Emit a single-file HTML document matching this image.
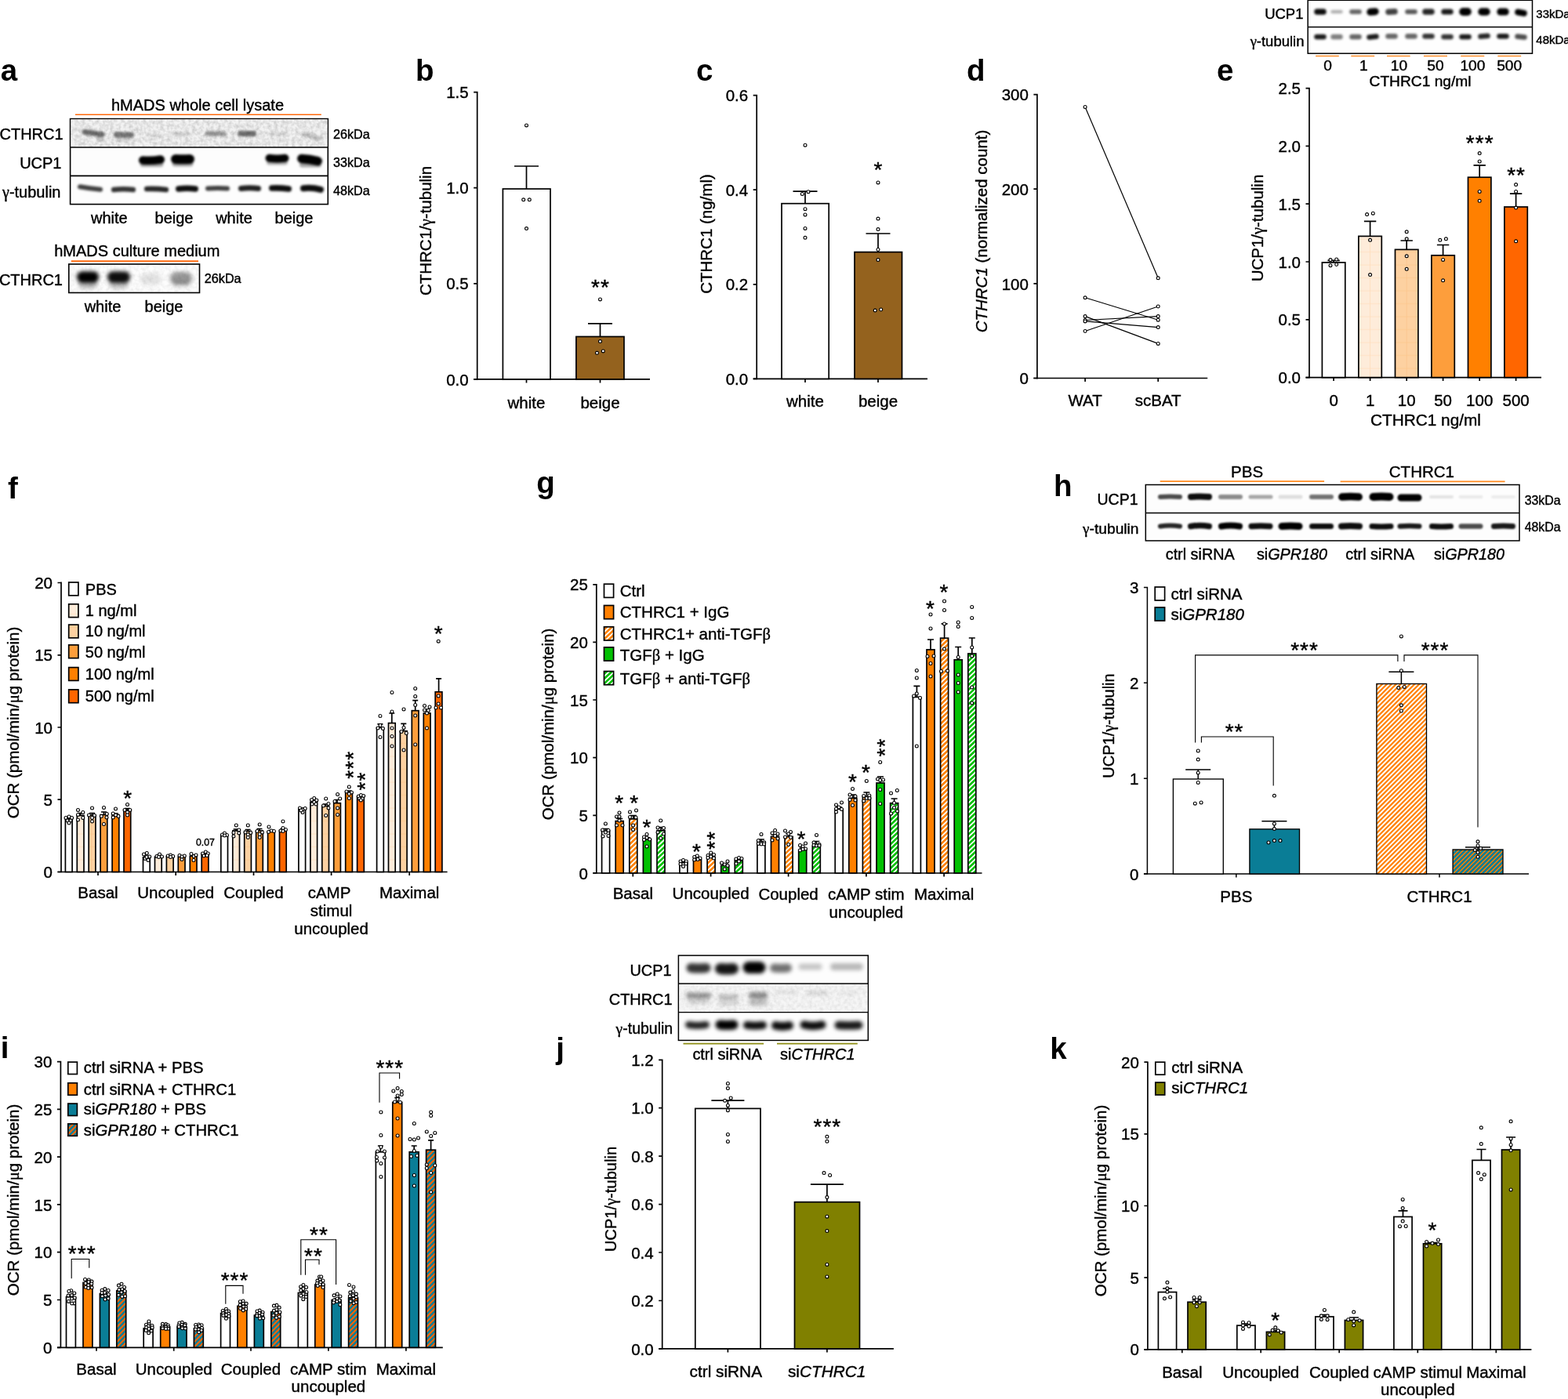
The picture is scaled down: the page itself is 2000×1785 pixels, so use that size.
<!DOCTYPE html>
<html lang="en"><head><meta charset="utf-8"><title>Figure</title>
<style>
html,body{margin:0;padding:0;background:#fff}
svg{display:block}
text{font-family:"Liberation Sans",Arial,Helvetica,sans-serif;font-size:20.5px;fill:#000;stroke:#000;stroke-width:0.4px}
path{stroke:#000;stroke-width:1.7;fill:none}
#m rect{stroke:#000;stroke-width:1.7;fill:#fff}
circle{fill:#fff;stroke:#000;stroke-width:1.1;r:1.95px}
.b{stroke-width:1.1}
.s{font-size:28px;letter-spacing:1px;text-anchor:middle;stroke:#000;stroke-width:0.4px}
.wb path{stroke-linecap:round}
</style></head><body>
<svg width="2000" height="1785" viewBox="0 0 2000 1785">
<defs>
<filter id="b1" filterUnits="userSpaceOnUse" x="0" y="0" width="2000" height="1785"><feGaussianBlur stdDeviation="1.0"/></filter>
<filter id="b2" filterUnits="userSpaceOnUse" x="0" y="0" width="2000" height="1785"><feGaussianBlur stdDeviation="1.6"/></filter>
<filter id="b3" filterUnits="userSpaceOnUse" x="0" y="0" width="2000" height="1785"><feGaussianBlur stdDeviation="2.6"/></filter>
<filter id="nz" x="0" y="0" width="100%" height="100%"><feTurbulence type="fractalNoise" baseFrequency="0.22" numOctaves="2" seed="3"/><feColorMatrix type="matrix" values="0 0 0 0 0  0 0 0 0 0  0 0 0 0 0  1.1 0 0 0 -0.36"/></filter>
<pattern id="g1" x="1724.3" y="0" width="46.6" height="16.5" patternUnits="userSpaceOnUse"><rect width="46.6" height="16.5" fill="#feecda"/><path d="M0 8H46.6M23.3 0V16.5" style="stroke:#fddcb8;stroke-width:0.7"/></pattern>
<pattern id="g2" x="1724.3" y="0" width="46.6" height="16.5" patternUnits="userSpaceOnUse"><rect width="46.6" height="16.5" fill="#fdd1a1"/><path d="M0 8H46.6M23.3 0V16.5" style="stroke:#fcc48a;stroke-width:0.7"/></pattern>
</defs>
<rect width="2000" height="1785" fill="#fff"/>
<g id="m">
<text x="0.8" y="103" style="font-size:38.5px;font-weight:bold;stroke:none">a</text>
<text x="252" y="141" text-anchor="middle" style="font-size:20px">hMADS whole cell lysate</text>
<path d="M96 146.3L409.8 146.3" style="stroke-width:1.5;stroke:#ff6a0d"/>
<rect x="89.6" y="151.6" width="328.7" height="109" style="stroke-width:1.6;fill:#fdfdfd"/>
<rect x="90.4" y="152.4" width="327.1" height="35" style="fill:#f2f2f2;stroke:none"/>
<rect x="90.4" y="152.4" width="327.1" height="35" filter="url(#nz)" style="stroke:none;opacity:0.26"/>
<path d="M89.6 188L418.3 188" style="stroke-width:1.6"/>
<path d="M89.6 224.4L418.3 224.4" style="stroke-width:1.6"/>
<text x="80.6" y="177.5" text-anchor="end" style="font-size:20px">CTHRC1</text>
<text x="78.5" y="215" text-anchor="end" style="font-size:20px">UCP1</text>
<text x="77.5" y="252" text-anchor="end" style="font-size:20px"><tspan font-family="Liberation Serif, serif">γ</tspan>-tubulin</text>
<text x="425" y="176.5" style="font-size:16.2px">26kDa</text>
<text x="425" y="212.5" style="font-size:16.2px">33kDa</text>
<text x="425" y="248.7" style="font-size:16.2px">48kDa</text>
<g filter="url(#b2)" class="wb">
<path d="M108 168.4Q119 170 130 171.6" style="stroke-width:7;opacity:0.55"/>
<path d="M148.5 171.7Q158 172 167.5 172.3" style="stroke-width:7;opacity:0.5"/>
<path d="M189.5 173Q198 173 206.5 173" style="stroke-width:5;opacity:0.08"/>
<path d="M224.5 171Q232 171 239.5 171" style="stroke-width:5;opacity:0.12"/>
<path d="M264.5 170.5Q275 170.5 285.5 170.5" style="stroke-width:6;opacity:0.38"/>
<path d="M306.5 170.5Q315 170.5 323.5 170.5" style="stroke-width:7;opacity:0.55"/>
<path d="M345.5 171Q355 171 364.5 171" style="stroke-width:5;opacity:0.1"/>
<path d="M386.5 171.5Q397 174 407.5 176.5" style="stroke-width:5;opacity:0.22"/>
<path d="M126 177Q128 177 130 177" style="stroke-width:6;opacity:0.15"/>
<path d="M150 178Q157 178 164 178" style="stroke-width:6;opacity:0.12"/>
</g>
<g filter="url(#b2)" class="wb">
<path d="M182.2 204.5Q193.5 205.5 204.8 203.5" style="stroke-width:10.5;opacity:1"/>
<path d="M224 203Q233 203.5 242 203" style="stroke-width:12;opacity:1"/>
<path d="M343.5 201.8Q353.5 203.3 363.5 201.8" style="stroke-width:10;opacity:1"/>
<path d="M384.8 202.5Q395 203 405.2 205.5" style="stroke-width:11.5;opacity:1"/>
<path d="M182.5 209Q193.5 209 204.5 209" style="stroke-width:8;opacity:0.35"/>
<path d="M223.5 208.5Q233 208.5 242.5 208.5" style="stroke-width:8;opacity:0.35"/>
<path d="M343.5 207Q353.5 207 363.5 207" style="stroke-width:7;opacity:0.3"/>
<path d="M385.5 210Q396 210 406.5 210" style="stroke-width:7;opacity:0.35"/>
</g>
<g filter="url(#b2)" class="wb">
<path d="M102 238.2Q115 240.5 128 241.8" style="stroke-width:6;opacity:0.75"/>
<path d="M145.2 242Q157.5 240.5 169.8 242" style="stroke-width:6.5;opacity:0.8"/>
<path d="M187.2 241Q199.5 240.5 211.8 242" style="stroke-width:6.5;opacity:0.85"/>
<path d="M227.8 241Q238.5 239.5 249.2 241" style="stroke-width:7.5;opacity:0.95"/>
<path d="M265 240.5Q277.5 239.5 290 240.5" style="stroke-width:6;opacity:0.75"/>
<path d="M307.5 240.5Q318.5 239 329.5 240.5" style="stroke-width:7;opacity:0.88"/>
<path d="M346.8 240Q357.5 239.5 368.2 241" style="stroke-width:7.5;opacity:0.95"/>
<path d="M387 240.2Q398 239 409 241.8" style="stroke-width:8;opacity:0.95"/>
</g>
<text x="139.3" y="285" text-anchor="middle" style="font-size:20px">white</text>
<text x="222" y="285" text-anchor="middle" style="font-size:20px">beige</text>
<text x="298.5" y="285" text-anchor="middle" style="font-size:20px">white</text>
<text x="375" y="285" text-anchor="middle" style="font-size:20px">beige</text>
<text x="174.8" y="326.8" text-anchor="middle" style="font-size:20px">hMADS culture medium</text>
<path d="M90.8 333.3L253 333.3" style="stroke-width:1.9;stroke:#ff6a0d"/>
<rect x="87.8" y="337" width="166.7" height="36.5" style="stroke-width:1.6;fill:#fdfdfd"/>
<rect x="88.6" y="337.8" width="165.1" height="34.9" filter="url(#nz)" style="stroke:none;opacity:0.1"/>
<g filter="url(#b3)" class="wb">
<path d="M105.2 353.5Q112 353.5 118.8 353.5" style="stroke-width:14.5;opacity:1"/>
<path d="M144.2 353.5Q151.5 353.5 158.8 353.5" style="stroke-width:14.5;opacity:0.95"/>
<path d="M186 356Q192 356 198 356" style="stroke-width:14;opacity:0.1"/>
<path d="M225 355Q231 355 237 355" style="stroke-width:16;opacity:0.4"/>
<path d="M106 362Q112 362 118 362" style="stroke-width:12;opacity:0.28"/>
<path d="M145 362Q151.5 362 158 362" style="stroke-width:12;opacity:0.25"/>
<path d="M224 362Q231 362 238 362" style="stroke-width:10;opacity:0.1"/>
</g>
<text x="80" y="363.8" text-anchor="end" style="font-size:20px">CTHRC1</text>
<text x="260.8" y="361" style="font-size:16.2px">26kDa</text>
<text x="131" y="398" text-anchor="middle" style="font-size:20px">white</text>
<text x="209" y="398" text-anchor="middle" style="font-size:20px">beige</text>
<text x="530" y="103" style="font-size:38.5px;font-weight:bold;stroke:none">b</text>
<path d="M608.7 116.8V484.8M604.2 117.6H608.7M604.2 239.7H608.7M604.2 361.8H608.7M604.2 483.9H608.7"/>
<text x="597.7" y="125.2" text-anchor="end">1.5</text>
<text x="597.7" y="247.3" text-anchor="end">1.0</text>
<text x="597.7" y="369.4" text-anchor="end">0.5</text>
<text x="597.7" y="491.5" text-anchor="end">0.0</text>
<path d="M604.2 483.9H829M671.5 483.9V488.4M765.5 483.9V488.4"/>
<rect x="641.4" y="241" width="60.6" height="242.9"/>
<rect x="734.9" y="429.5" width="61.1" height="54.4" style="fill:#94621e"/>
<path d="M656 212H687M671.5 212V241"/>
<path d="M750 412.9H781M765.5 412.9V429.5"/>
<circle cx="671.5" cy="159.9"/>
<circle cx="667.7" cy="254.8"/>
<circle cx="675.3" cy="254.8"/>
<circle cx="671.5" cy="291.6"/>
<circle cx="765.5" cy="381.9"/>
<circle cx="765.5" cy="435.6"/>
<circle cx="769.3" cy="447.9"/>
<circle cx="761.5" cy="450.3"/>
<text x="766" y="375.5" class="s">**</text>
<text x="671.5" y="520.5" text-anchor="middle">white</text>
<text x="765.5" y="520.5" text-anchor="middle">beige</text>
<text x="550" y="294.5" text-anchor="middle" transform="rotate(-90 550 294.5)">CTHRC1/<tspan font-family="Liberation Serif, serif">γ</tspan>-tubulin</text>
<text x="888" y="103" style="font-size:38.5px;font-weight:bold;stroke:none">c</text>
<path d="M965.2 120.8V484.2M960.7 121.6H965.2M960.7 242.2H965.2M960.7 362.8H965.2M960.7 483.4H965.2"/>
<text x="954.2" y="129.2" text-anchor="end">0.6</text>
<text x="954.2" y="249.8" text-anchor="end">0.4</text>
<text x="954.2" y="370.4" text-anchor="end">0.2</text>
<text x="954.2" y="491" text-anchor="end">0.0</text>
<path d="M960.7 483.4H1183M1027 483.4V487.9M1120 483.4V487.9"/>
<rect x="997" y="259.7" width="60.2" height="223.7"/>
<rect x="1090" y="321.6" width="60.5" height="161.8" style="fill:#94621e"/>
<path d="M1011.5 244.1H1042.5M1027 244.1V259.7"/>
<path d="M1104.5 298H1135.5M1120 298V321.6"/>
<circle cx="1027" cy="185.2"/>
<circle cx="1031" cy="244.7"/>
<circle cx="1023.3" cy="247.5"/>
<circle cx="1027" cy="266.7"/>
<circle cx="1027" cy="273.9"/>
<circle cx="1027" cy="291.4"/>
<circle cx="1027" cy="303.3"/>
<circle cx="1120" cy="232.9"/>
<circle cx="1120" cy="279.1"/>
<circle cx="1120" cy="292.6"/>
<circle cx="1120" cy="318.5"/>
<circle cx="1120" cy="331.6"/>
<circle cx="1116.2" cy="396.1"/>
<circle cx="1123.7" cy="395"/>
<text x="1120.5" y="225.5" class="s">*</text>
<text x="1027" y="518.8" text-anchor="middle">white</text>
<text x="1120" y="518.8" text-anchor="middle">beige</text>
<text x="907.5" y="298.5" text-anchor="middle" transform="rotate(-90 907.5 298.5)">CTHRC1 (ng/ml)</text>
<text x="1233" y="103" style="font-size:38.5px;font-weight:bold;stroke:none">d</text>
<path d="M1322.9 119.8V483.4M1318.4 120.6H1322.9M1318.4 241.2H1322.9M1318.4 361.9H1322.9M1318.4 482.5H1322.9"/>
<text x="1311.9" y="128.2" text-anchor="end">300</text>
<text x="1311.9" y="248.8" text-anchor="end">200</text>
<text x="1311.9" y="369.5" text-anchor="end">100</text>
<text x="1311.9" y="490.1" text-anchor="end">0</text>
<path d="M1318.4 482.5H1540.2M1384.1 482.5V487M1477.2 482.5V487"/>
<path d="M1384.1 136.5L1477.2 354.8" style="stroke-width:1.2"/>
<path d="M1384.1 379.8L1477.2 408.2" style="stroke-width:1.2"/>
<path d="M1384.1 403.6L1477.2 438.4" style="stroke-width:1.2"/>
<path d="M1384.1 408.5L1477.2 403.6" style="stroke-width:1.2"/>
<path d="M1384.1 409.9L1477.2 417.6" style="stroke-width:1.2"/>
<path d="M1384.1 422.5L1477.2 391" style="stroke-width:1.2"/>
<circle cx="1384.1" cy="136.5"/>
<circle cx="1384.1" cy="379.8"/>
<circle cx="1384.1" cy="403.6"/>
<circle cx="1384.1" cy="408.5"/>
<circle cx="1384.1" cy="409.9"/>
<circle cx="1384.1" cy="422.5"/>
<circle cx="1477.2" cy="354.8"/>
<circle cx="1477.2" cy="408.2"/>
<circle cx="1477.2" cy="438.4"/>
<circle cx="1477.2" cy="403.6"/>
<circle cx="1477.2" cy="417.6"/>
<circle cx="1477.2" cy="391"/>
<text x="1384.1" y="518.2" text-anchor="middle">WAT</text>
<text x="1477.2" y="518.2" text-anchor="middle">scBAT</text>
<text x="1259" y="295" text-anchor="middle" transform="rotate(-90 1259 295)"><tspan font-style="italic">CTHRC1</tspan> (normalized count)</text>
<text x="1552" y="103" style="font-size:38.5px;font-weight:bold;stroke:none">e</text>
<rect x="1668.2" y="0.3" width="286.3" height="67.9" style="stroke-width:1.5;fill:#fefefe"/>
<path d="M1668.2 34.5L1954.5 34.5" style="stroke-width:1.5"/>
<text x="1662.5" y="24.2" text-anchor="end" style="font-size:18.5px">UCP1</text>
<text x="1663.5" y="59.4" text-anchor="end" style="font-size:18.5px"><tspan font-family="Liberation Serif, serif">γ</tspan>-tubulin</text>
<text x="1959.3" y="22.7" style="font-size:15px">33kDa</text>
<text x="1959.3" y="55.7" style="font-size:15px">48kDa</text>
<g filter="url(#b2)" class="wb">
<path d="M1680 15Q1684 15 1688 15" style="stroke-width:7.5;opacity:0.95"/>
<path d="M1699.5 15Q1705 15 1710.5 15" style="stroke-width:4.5;opacity:0.3"/>
<path d="M1724.2 15Q1729 15 1733.8 15" style="stroke-width:6;opacity:0.6"/>
<path d="M1747.8 15.3Q1751 15 1754.2 14.7" style="stroke-width:9;opacity:1"/>
<path d="M1771 15.3Q1775 15 1779 14.7" style="stroke-width:7.5;opacity:0.75"/>
<path d="M1795.2 15Q1800 15 1804.8 15" style="stroke-width:6;opacity:0.65"/>
<path d="M1818 15Q1822 15 1826 15" style="stroke-width:7.5;opacity:0.85"/>
<path d="M1841.8 15Q1846 15 1850.2 15" style="stroke-width:7;opacity:0.9"/>
<path d="M1866.2 15Q1869 15 1871.8 15" style="stroke-width:10;opacity:1"/>
<path d="M1890 15Q1893 15 1896 15" style="stroke-width:9.5;opacity:1"/>
<path d="M1913.8 15Q1917 15 1920.2 15" style="stroke-width:9;opacity:1"/>
<path d="M1936.2 15.5Q1940 16.2 1943.8 16.9" style="stroke-width:8;opacity:1"/>
</g>
<g filter="url(#b2)" class="wb">
<path d="M1679.5 47Q1684 47 1688.5 47" style="stroke-width:6.5;opacity:0.9"/>
<path d="M1700.5 47Q1705 47 1709.5 47" style="stroke-width:6.5;opacity:0.5"/>
<path d="M1724.5 47Q1729 47 1733.5 47" style="stroke-width:6.5;opacity:0.6"/>
<path d="M1746.5 47.4Q1751 47 1755.5 46.6" style="stroke-width:6.5;opacity:0.9"/>
<path d="M1770.5 46.2Q1775 46.2 1779.5 46.2" style="stroke-width:6.5;opacity:0.6"/>
<path d="M1795.5 46.2Q1800 46.2 1804.5 46.2" style="stroke-width:6.5;opacity:0.6"/>
<path d="M1817.5 46.2Q1822 46.2 1826.5 46.2" style="stroke-width:6.5;opacity:0.8"/>
<path d="M1841.5 47Q1846 47 1850.5 47" style="stroke-width:6.5;opacity:0.8"/>
<path d="M1864.5 47Q1869 47 1873.5 47" style="stroke-width:6.5;opacity:0.9"/>
<path d="M1888.5 46.6Q1893 46.2 1897.5 45.8" style="stroke-width:6.5;opacity:0.85"/>
<path d="M1912.5 46.2Q1917 46.2 1921.5 46.2" style="stroke-width:6.5;opacity:0.9"/>
<path d="M1935.5 46.6Q1940 47 1944.5 47.4" style="stroke-width:6.5;opacity:0.7"/>
</g>
<path d="M1678.1 71.5L1707.8 71.5" style="stroke-width:1.6;stroke:#ff9030"/>
<path d="M1723.3 71.5L1753.2 71.5" style="stroke-width:1.6;stroke:#ff9030"/>
<path d="M1769 71.5L1798.7 71.5" style="stroke-width:1.6;stroke:#ff9030"/>
<path d="M1815.9 71.5L1846 71.5" style="stroke-width:1.6;stroke:#ff9030"/>
<path d="M1863.2 71.5L1893.3 71.5" style="stroke-width:1.6;stroke:#ff9030"/>
<path d="M1910.3 71.5L1940.2 71.5" style="stroke-width:1.6;stroke:#ff9030"/>
<text x="1693.5" y="90.2" text-anchor="middle" style="font-size:19.2px">0</text>
<text x="1739.3" y="90.2" text-anchor="middle" style="font-size:19.2px">1</text>
<text x="1784.4" y="90.2" text-anchor="middle" style="font-size:19.2px">10</text>
<text x="1831" y="90.2" text-anchor="middle" style="font-size:19.2px">50</text>
<text x="1878.4" y="90.2" text-anchor="middle" style="font-size:19.2px">100</text>
<text x="1925.2" y="90.2" text-anchor="middle" style="font-size:19.2px">500</text>
<text x="1811.6" y="110" text-anchor="middle" style="font-size:19.2px">CTHRC1 ng/ml</text>
<path d="M1670 111.8V482.5M1665.5 112.6H1670M1665.5 186.4H1670M1665.5 260.2H1670M1665.5 334H1670M1665.5 407.8H1670M1665.5 481.6H1670"/>
<text x="1659" y="120.2" text-anchor="end">2.5</text>
<text x="1659" y="194" text-anchor="end">2.0</text>
<text x="1659" y="267.8" text-anchor="end">1.5</text>
<text x="1659" y="341.6" text-anchor="end">1.0</text>
<text x="1659" y="415.4" text-anchor="end">0.5</text>
<text x="1659" y="489.2" text-anchor="end">0.0</text>
<path d="M1665.5 481.6H1966M1701.1 481.6V486.1M1747.6 481.6V486.1M1794.2 481.6V486.1M1840.6 481.6V486.1M1887.2 481.6V486.1M1933.6 481.6V486.1"/>
<rect x="1686.4" y="334.9" width="29.4" height="146.7"/>
<path d="M1693.4 332.3H1708.8M1701.1 332.3V334.9"/>
<rect x="1732.9" y="301.4" width="29.4" height="180.2" style="fill:url(#g1)"/>
<path d="M1739.9 282.4H1755.3M1747.6 282.4V301.4"/>
<rect x="1779.5" y="318.4" width="29.4" height="163.2" style="fill:url(#g2)"/>
<path d="M1786.5 307H1801.9M1794.2 307V318.4"/>
<rect x="1825.9" y="325.8" width="29.4" height="155.8" style="fill:#fd9e3c"/>
<path d="M1832.9 312.5H1848.3M1840.6 312.5V325.8"/>
<rect x="1872.5" y="226.2" width="29.4" height="255.4" style="fill:#ff8000"/>
<path d="M1879.5 210.8H1894.9M1887.2 210.8V226.2"/>
<rect x="1918.9" y="264" width="29.4" height="217.6" style="fill:#ff6600"/>
<path d="M1925.9 247.1H1941.3M1933.6 247.1V264"/>
<circle cx="1697" cy="331.6"/>
<circle cx="1704.7" cy="331"/>
<circle cx="1697" cy="338.7"/>
<circle cx="1704.7" cy="337.5"/>
<circle cx="1743.6" cy="273.6"/>
<circle cx="1751.3" cy="272.2"/>
<circle cx="1747.6" cy="306.3"/>
<circle cx="1747.6" cy="350.6"/>
<circle cx="1794.2" cy="295.8"/>
<circle cx="1794.2" cy="304.8"/>
<circle cx="1794.2" cy="326.8"/>
<circle cx="1794.2" cy="343.3"/>
<circle cx="1836.8" cy="306.3"/>
<circle cx="1844.4" cy="304.8"/>
<circle cx="1840.6" cy="331.4"/>
<circle cx="1840.6" cy="357.8"/>
<circle cx="1887.2" cy="195.6"/>
<circle cx="1887.2" cy="206"/>
<circle cx="1887.2" cy="244.4"/>
<circle cx="1887.2" cy="256.3"/>
<circle cx="1933.6" cy="235.6"/>
<circle cx="1933.6" cy="244.4"/>
<circle cx="1933.6" cy="265.1"/>
<circle cx="1933.6" cy="307.8"/>
<text x="1887.7" y="191.9" class="s">***</text>
<text x="1934.1" y="232.7" class="s">**</text>
<text x="1701.1" y="517.8" text-anchor="middle">0</text>
<text x="1747.6" y="517.8" text-anchor="middle">1</text>
<text x="1794.2" y="517.8" text-anchor="middle">10</text>
<text x="1840.6" y="517.8" text-anchor="middle">50</text>
<text x="1887.2" y="517.8" text-anchor="middle">100</text>
<text x="1933.6" y="517.8" text-anchor="middle">500</text>
<text x="1818.5" y="543" text-anchor="middle" style="font-size:20.8px">CTHRC1 ng/ml</text>
<text x="1611" y="291" text-anchor="middle" transform="rotate(-90 1611 291)">UCP1/<tspan font-family="Liberation Serif, serif">γ</tspan>-tubulin</text>
<text x="10" y="636" style="font-size:38.5px;font-weight:bold;stroke:none">f</text>
<path d="M78 742.6V1113.3M73.5 743.5H78M73.5 835.8H78M73.5 928H78M73.5 1020.2H78M73.5 1112.5H78"/>
<text x="67" y="751.1" text-anchor="end">20</text>
<text x="67" y="843.4" text-anchor="end">15</text>
<text x="67" y="935.6" text-anchor="end">10</text>
<text x="67" y="1027.8" text-anchor="end">5</text>
<text x="67" y="1120.1" text-anchor="end">0</text>
<path d="M73.5 1112.5H570.6M125 1112.5V1117M224.2 1112.5V1117M323.5 1112.5V1117M422.6 1112.5V1117M522.2 1112.5V1117"/>
<rect x="83.4" y="1045.8" width="8.7" height="66.7"/>
<path d="M84.2 1044H91.2M87.7 1044V1045.8"/>
<rect x="98.3" y="1040.5" width="8.7" height="72" style="fill:url(#g1)"/>
<path d="M99.1 1037.5H106.1M102.6 1037.5V1040.5"/>
<rect x="113.2" y="1040" width="8.7" height="72.5" style="fill:url(#g2)"/>
<path d="M114.1 1037.5H121.1M117.6 1037.5V1040"/>
<rect x="128.1" y="1039.6" width="8.7" height="72.9" style="fill:#fd9e3c"/>
<path d="M129 1036H136M132.5 1036V1039.6"/>
<rect x="143.1" y="1039.6" width="8.7" height="72.9" style="fill:#ff8000"/>
<path d="M143.9 1038H150.9M147.4 1038V1039.6"/>
<rect x="158" y="1033.3" width="8.7" height="79.2" style="fill:#ff6600"/>
<path d="M158.9 1031.5H165.9M162.4 1031.5V1033.3"/>
<circle cx="84" cy="1043.5"/>
<circle cx="88" cy="1042"/>
<circle cx="91.6" cy="1043.5"/>
<circle cx="86" cy="1047"/>
<circle cx="90" cy="1047"/>
<circle cx="88" cy="1050"/>
<circle cx="99.5" cy="1033.5"/>
<circle cx="105.8" cy="1036.5"/>
<circle cx="99.5" cy="1039.5"/>
<circle cx="105.8" cy="1043.5"/>
<circle cx="99.5" cy="1046"/>
<circle cx="117.5" cy="1031"/>
<circle cx="113.5" cy="1040"/>
<circle cx="120.5" cy="1040.5"/>
<circle cx="117.5" cy="1043.5"/>
<circle cx="117.5" cy="1048"/>
<circle cx="132.5" cy="1030.5"/>
<circle cx="129.3" cy="1041.5"/>
<circle cx="136.3" cy="1038.5"/>
<circle cx="136" cy="1043"/>
<circle cx="132.5" cy="1051.5"/>
<circle cx="147.5" cy="1032"/>
<circle cx="144.2" cy="1038"/>
<circle cx="151" cy="1041.5"/>
<circle cx="144.2" cy="1043"/>
<circle cx="147.5" cy="1040"/>
<circle cx="162.5" cy="1026.5"/>
<circle cx="159" cy="1033.5"/>
<circle cx="165.8" cy="1033.5"/>
<circle cx="162.5" cy="1036.5"/>
<circle cx="162.5" cy="1040"/>
<rect x="182.5" y="1093.8" width="8.7" height="18.7"/>
<path d="M183.4 1092.5H190.4M186.9 1092.5V1093.8"/>
<rect x="197.5" y="1093.3" width="8.7" height="19.2" style="fill:url(#g1)"/>
<path d="M198.3 1092.3H205.3M201.8 1092.3V1093.3"/>
<rect x="212.4" y="1092.8" width="8.7" height="19.7" style="fill:url(#g2)"/>
<path d="M213.3 1091.8H220.3M216.8 1091.8V1092.8"/>
<rect x="227.3" y="1093.3" width="8.7" height="19.2" style="fill:#fd9e3c"/>
<path d="M228.2 1092.3H235.2M231.7 1092.3V1093.3"/>
<rect x="242.3" y="1092.3" width="8.7" height="20.2" style="fill:#ff8000"/>
<path d="M243.1 1090.8H250.1M246.6 1090.8V1092.3"/>
<rect x="257.2" y="1089.5" width="8.7" height="23" style="fill:#ff6600"/>
<path d="M258 1088.3H265M261.5 1088.3V1089.5"/>
<circle cx="183.5" cy="1090"/>
<circle cx="187.3" cy="1088.5"/>
<circle cx="190.7" cy="1093"/>
<circle cx="185" cy="1095.5"/>
<circle cx="189" cy="1097.5"/>
<circle cx="187" cy="1093.5"/>
<circle cx="200" cy="1092.5"/>
<circle cx="203.5" cy="1090"/>
<circle cx="206.5" cy="1093"/>
<circle cx="202.5" cy="1093.5"/>
<circle cx="214.2" cy="1092"/>
<circle cx="217.5" cy="1091"/>
<circle cx="220.7" cy="1092.5"/>
<circle cx="217.5" cy="1093.5"/>
<circle cx="229" cy="1091.5"/>
<circle cx="235.3" cy="1092"/>
<circle cx="232" cy="1096.5"/>
<circle cx="232" cy="1093"/>
<circle cx="244" cy="1089.5"/>
<circle cx="247.2" cy="1092.5"/>
<circle cx="250" cy="1091"/>
<circle cx="247" cy="1097.5"/>
<circle cx="258.5" cy="1089"/>
<circle cx="262.3" cy="1087"/>
<circle cx="265.3" cy="1089"/>
<circle cx="260" cy="1092"/>
<circle cx="264" cy="1091.5"/>
<rect x="281.8" y="1065.5" width="8.7" height="47"/>
<path d="M282.7 1064.5H289.7M286.2 1064.5V1065.5"/>
<rect x="296.8" y="1060" width="8.7" height="52.5" style="fill:url(#g1)"/>
<path d="M297.6 1058H304.6M301.1 1058V1060"/>
<rect x="311.7" y="1060.5" width="8.7" height="52" style="fill:url(#g2)"/>
<path d="M312.6 1058.5H319.6M316.1 1058.5V1060.5"/>
<rect x="326.6" y="1060" width="8.7" height="52.5" style="fill:#fd9e3c"/>
<path d="M327.5 1057.5H334.5M331 1057.5V1060"/>
<rect x="341.6" y="1061" width="8.7" height="51.5" style="fill:#ff8000"/>
<path d="M342.4 1059.5H349.4M345.9 1059.5V1061"/>
<rect x="356.5" y="1059.5" width="8.7" height="53" style="fill:#ff6600"/>
<path d="M357.4 1057.5H364.4M360.9 1057.5V1059.5"/>
<circle cx="283.5" cy="1065"/>
<circle cx="286.5" cy="1063"/>
<circle cx="289.5" cy="1065.5"/>
<circle cx="286.5" cy="1066"/>
<circle cx="301.3" cy="1053"/>
<circle cx="298" cy="1062.5"/>
<circle cx="304.8" cy="1059"/>
<circle cx="298" cy="1067"/>
<circle cx="304.8" cy="1063"/>
<circle cx="316.3" cy="1053"/>
<circle cx="313" cy="1062"/>
<circle cx="319.7" cy="1062.5"/>
<circle cx="316.3" cy="1065"/>
<circle cx="316.3" cy="1068.5"/>
<circle cx="331.2" cy="1052"/>
<circle cx="328" cy="1060.5"/>
<circle cx="334.5" cy="1062"/>
<circle cx="331.2" cy="1064.5"/>
<circle cx="331.2" cy="1068.5"/>
<circle cx="343" cy="1055"/>
<circle cx="342.5" cy="1061.5"/>
<circle cx="346.3" cy="1060"/>
<circle cx="349.5" cy="1060.5"/>
<circle cx="361" cy="1048"/>
<circle cx="358" cy="1060"/>
<circle cx="364.5" cy="1058.5"/>
<circle cx="361" cy="1056.5"/>
<circle cx="361" cy="1060.5"/>
<rect x="380.9" y="1032.2" width="8.7" height="80.3"/>
<path d="M381.8 1031H388.8M385.3 1031V1032.2"/>
<rect x="395.9" y="1023.4" width="8.7" height="89.1" style="fill:url(#g1)"/>
<path d="M396.7 1021.5H403.7M400.2 1021.5V1023.4"/>
<rect x="410.8" y="1028.5" width="8.7" height="84" style="fill:url(#g2)"/>
<path d="M411.7 1026H418.7M415.2 1026V1028.5"/>
<rect x="425.7" y="1024.7" width="8.7" height="87.8" style="fill:#fd9e3c"/>
<path d="M426.6 1020.5H433.6M430.1 1020.5V1024.7"/>
<rect x="440.7" y="1010.8" width="8.7" height="101.7" style="fill:#ff8000"/>
<path d="M441.5 1009H448.5M445 1009V1010.8"/>
<rect x="455.6" y="1016.6" width="8.7" height="95.9" style="fill:#ff6600"/>
<path d="M456.5 1015.2H463.5M460 1015.2V1016.6"/>
<circle cx="382.5" cy="1031"/>
<circle cx="386" cy="1033"/>
<circle cx="389.2" cy="1031.5"/>
<circle cx="386" cy="1036.5"/>
<circle cx="384" cy="1034"/>
<circle cx="400.7" cy="1018.5"/>
<circle cx="397.5" cy="1020.5"/>
<circle cx="403.8" cy="1021"/>
<circle cx="400.7" cy="1023.5"/>
<circle cx="398" cy="1026"/>
<circle cx="403" cy="1026"/>
<circle cx="415.7" cy="1019"/>
<circle cx="412.5" cy="1028"/>
<circle cx="419" cy="1025.5"/>
<circle cx="419" cy="1031"/>
<circle cx="415.7" cy="1040.5"/>
<circle cx="430.6" cy="1013.5"/>
<circle cx="427" cy="1022.5"/>
<circle cx="433.7" cy="1019"/>
<circle cx="430.6" cy="1031"/>
<circle cx="430.6" cy="1039.5"/>
<circle cx="445.3" cy="1004"/>
<circle cx="442" cy="1010"/>
<circle cx="448.5" cy="1011"/>
<circle cx="445.3" cy="1013"/>
<circle cx="445.3" cy="1018.5"/>
<circle cx="457.3" cy="1016"/>
<circle cx="460.5" cy="1014.5"/>
<circle cx="463.7" cy="1015.5"/>
<circle cx="458.5" cy="1019"/>
<circle cx="462.3" cy="1019"/>
<circle cx="460.3" cy="1021"/>
<rect x="480.6" y="928.4" width="8.7" height="184.1"/>
<path d="M481.4 923.9H488.4M484.9 923.9V928.4"/>
<rect x="495.5" y="922.6" width="8.7" height="189.9" style="fill:url(#g1)"/>
<path d="M496.3 910H503.3M499.8 910V922.6"/>
<rect x="510.4" y="932.7" width="8.7" height="179.8" style="fill:url(#g2)"/>
<path d="M511.3 923.3H518.3M514.8 923.3V932.7"/>
<rect x="525.3" y="906.7" width="8.7" height="205.8" style="fill:#fd9e3c"/>
<path d="M526.2 893.6H533.2M529.7 893.6V906.7"/>
<rect x="540.3" y="910" width="8.7" height="202.5" style="fill:#ff8000"/>
<path d="M541.1 905H548.1M544.6 905V910"/>
<rect x="555.2" y="882.8" width="8.7" height="229.7" style="fill:#ff6600"/>
<path d="M556.1 865.9H563.1M559.6 865.9V882.8"/>
<circle cx="485" cy="913.5"/>
<circle cx="482" cy="929"/>
<circle cx="488.4" cy="929.5"/>
<circle cx="485" cy="925.5"/>
<circle cx="485" cy="940.5"/>
<circle cx="500" cy="883.5"/>
<circle cx="500" cy="908"/>
<circle cx="500" cy="929"/>
<circle cx="500" cy="939.5"/>
<circle cx="500" cy="952"/>
<circle cx="515" cy="905"/>
<circle cx="515" cy="928.5"/>
<circle cx="512" cy="933.5"/>
<circle cx="518.3" cy="935.5"/>
<circle cx="515" cy="957"/>
<circle cx="529.7" cy="878.5"/>
<circle cx="529.7" cy="888.5"/>
<circle cx="529.7" cy="899.5"/>
<circle cx="529.7" cy="913"/>
<circle cx="529.7" cy="950"/>
<circle cx="541.5" cy="900.5"/>
<circle cx="548" cy="902"/>
<circle cx="541.5" cy="906"/>
<circle cx="546.3" cy="906.5"/>
<circle cx="544.5" cy="910"/>
<circle cx="544.5" cy="929"/>
<circle cx="559.2" cy="818.2"/>
<circle cx="559.2" cy="888"/>
<circle cx="559.2" cy="898"/>
<circle cx="556" cy="903"/>
<circle cx="562.5" cy="903"/>
<rect x="87.7" y="743" width="12.2" height="16.8"/>
<text x="108.8" y="758.5" style="font-size:20px">PBS</text>
<rect x="87.7" y="770.8" width="12.2" height="16.8" style="fill:url(#g1)"/>
<text x="108.8" y="786.3" style="font-size:20px">1 ng/ml</text>
<rect x="87.7" y="797.1" width="12.2" height="16.8" style="fill:url(#g2)"/>
<text x="108.8" y="812.3" style="font-size:20px">10 ng/ml</text>
<rect x="87.7" y="822.9" width="12.2" height="16.8" style="fill:#fd9e3c"/>
<text x="108.8" y="838.7" style="font-size:20px">50 ng/ml</text>
<rect x="87.7" y="851.6" width="12.2" height="16.8" style="fill:#ff8000"/>
<text x="108.8" y="867" style="font-size:20px">100 ng/ml</text>
<rect x="87.7" y="879.9" width="12.2" height="16.8" style="fill:#ff6600"/>
<text x="108.8" y="895.1" style="font-size:20px">500 ng/ml</text>
<text x="125" y="1145.9" text-anchor="middle">Basal</text>
<text x="224.2" y="1145.9" text-anchor="middle">Uncoupled</text>
<text x="323.5" y="1145.9" text-anchor="middle">Coupled</text>
<text x="420" y="1145.9" text-anchor="middle">cAMP</text>
<text x="422.6" y="1169.1" text-anchor="middle">stimul</text>
<text x="422.6" y="1191.8" text-anchor="middle">uncoupled</text>
<text x="522.2" y="1145.9" text-anchor="middle">Maximal</text>
<text x="23.8" y="922" text-anchor="middle" transform="rotate(-90 23.8 922)">OCR (pmol/min/<tspan font-family="Liberation Serif, serif">μ</tspan>g protein)</text>
<text x="163.3" y="1028.2" class="s">*</text>
<text x="559.7" y="817.8" class="s">*</text>
<text x="447" y="990" class="s" transform="rotate(-90 446.5 976.3)">***</text>
<text x="462.1" y="1010.7" class="s" transform="rotate(-90 461.6 997)">**</text>
<text x="250" y="1079.4" style="font-size:12.3px">0.07</text>
<text x="684.2" y="629.2" style="font-size:38.5px;font-weight:bold;stroke:none">g</text>
<path d="M760.8 744.9V1114.8M756.3 745.8H760.8M756.3 819.4H760.8M756.3 893H760.8M756.3 966.7H760.8M756.3 1040.3H760.8M756.3 1114H760.8"/>
<text x="749.8" y="753.4" text-anchor="end">25</text>
<text x="749.8" y="827" text-anchor="end">20</text>
<text x="749.8" y="900.6" text-anchor="end">15</text>
<text x="749.8" y="974.3" text-anchor="end">10</text>
<text x="749.8" y="1047.9" text-anchor="end">5</text>
<text x="749.8" y="1121.6" text-anchor="end">0</text>
<path d="M756.3 1114H1252.5M807.3 1114V1118.5M906.6 1114V1118.5M1005.6 1114V1118.5M1104.9 1114V1118.5M1204.1 1114V1118.5"/>
<rect x="767.6" y="1060.2" width="10" height="53.8"/>
<path d="M768.6 1057.5H776.6M772.6 1057.5V1060.2"/>
<rect x="785.2" y="1047.6" width="10" height="66.4" style="fill:#ff8000"/>
<path d="M786.2 1044.5H794.2M790.2 1044.5V1047.6"/>
<clipPath id="c1"><rect x="802.8" y="1044.9" width="10" height="69.1"/></clipPath>
<rect x="802.8" y="1044.9" width="10" height="69.1" style="fill:#ff8000;stroke:none"/>
<path d="M800.8 1045.4L814.8 1032.1M800.8 1051.6L814.8 1038.2M800.8 1057.7L814.8 1044.4M800.8 1063.9L814.8 1050.6M800.8 1070L814.8 1056.7M800.8 1076.2L814.8 1062.9M800.8 1082.3L814.8 1069M800.8 1088.5L814.8 1075.2M800.8 1094.6L814.8 1081.3M800.8 1100.8L814.8 1087.5M800.8 1106.9L814.8 1093.6M800.8 1113.1L814.8 1099.8M800.8 1119.2L814.8 1105.9M800.8 1125.4L814.8 1112.1" clip-path="url(#c1)" style="stroke:#fff;stroke-width:1.85"/>
<rect x="802.8" y="1044.9" width="10" height="69.1" style="fill:none"/>
<path d="M803.8 1040.7H811.8M807.8 1040.7V1044.9"/>
<rect x="820.4" y="1071" width="10" height="43" style="fill:#02c002"/>
<path d="M821.4 1068.8H829.4M825.4 1068.8V1071"/>
<clipPath id="c2"><rect x="838" y="1059.8" width="10" height="54.2"/></clipPath>
<rect x="838" y="1059.8" width="10" height="54.2" style="fill:#02c002;stroke:none"/>
<path d="M836 1057.7L850 1044.4M836 1063.9L850 1050.5M836 1070L850 1056.7M836 1076.2L850 1062.9M836 1082.3L850 1069M836 1088.5L850 1075.2M836 1094.6L850 1081.3M836 1100.8L850 1087.5M836 1106.9L850 1093.6M836 1113.1L850 1099.8M836 1119.2L850 1105.9M836 1125.4L850 1112.1" clip-path="url(#c2)" style="stroke:#fff;stroke-width:1.85"/>
<rect x="838" y="1059.8" width="10" height="54.2" style="fill:none"/>
<path d="M839 1055.6H847M843 1055.6V1059.8"/>
<circle cx="772.4" cy="1051"/>
<circle cx="768.5" cy="1059"/>
<circle cx="776" cy="1059.5"/>
<circle cx="772.4" cy="1062"/>
<circle cx="769" cy="1067"/>
<circle cx="776" cy="1066.5"/>
<circle cx="790" cy="1037"/>
<circle cx="786.5" cy="1042"/>
<circle cx="790" cy="1047"/>
<circle cx="786.5" cy="1053"/>
<circle cx="794" cy="1053"/>
<circle cx="790" cy="1042"/>
<circle cx="803.5" cy="1036"/>
<circle cx="811.5" cy="1034"/>
<circle cx="803.5" cy="1042.5"/>
<circle cx="811" cy="1043"/>
<circle cx="807.5" cy="1053"/>
<circle cx="807.5" cy="1058.5"/>
<circle cx="825" cy="1064.5"/>
<circle cx="821.5" cy="1068"/>
<circle cx="828.7" cy="1071"/>
<circle cx="825" cy="1069"/>
<circle cx="821.5" cy="1071.5"/>
<circle cx="825" cy="1080"/>
<circle cx="842.7" cy="1047"/>
<circle cx="839" cy="1056"/>
<circle cx="846.5" cy="1056.5"/>
<circle cx="839" cy="1062"/>
<circle cx="846.5" cy="1064"/>
<circle cx="842.7" cy="1069.5"/>
<rect x="866.9" y="1100.7" width="10" height="13.3"/>
<path d="M867.9 1099H875.9M871.9 1099V1100.7"/>
<rect x="884.5" y="1097" width="10" height="17" style="fill:#ff8000"/>
<path d="M885.5 1095.5H893.5M889.5 1095.5V1097"/>
<clipPath id="c3"><rect x="902.1" y="1093.5" width="10" height="20.5"/></clipPath>
<rect x="902.1" y="1093.5" width="10" height="20.5" style="fill:#ff8000;stroke:none"/>
<path d="M900.1 1094.6L914.1 1081.3M900.1 1100.8L914.1 1087.5M900.1 1106.9L914.1 1093.6M900.1 1113.1L914.1 1099.8M900.1 1119.2L914.1 1105.9M900.1 1125.4L914.1 1112.1" clip-path="url(#c3)" style="stroke:#fff;stroke-width:1.85"/>
<rect x="902.1" y="1093.5" width="10" height="20.5" style="fill:none"/>
<path d="M903.1 1091.5H911.1M907.1 1091.5V1093.5"/>
<rect x="919.7" y="1104.3" width="10" height="9.7" style="fill:#02c002"/>
<path d="M920.7 1102.3H928.7M924.7 1102.3V1104.3"/>
<clipPath id="c4"><rect x="937.3" y="1098" width="10" height="16"/></clipPath>
<rect x="937.3" y="1098" width="10" height="16" style="fill:#02c002;stroke:none"/>
<path d="M935.3 1100.8L949.3 1087.5M935.3 1106.9L949.3 1093.6M935.3 1113.1L949.3 1099.8M935.3 1119.2L949.3 1105.9M935.3 1125.4L949.3 1112.1" clip-path="url(#c4)" style="stroke:#fff;stroke-width:1.85"/>
<rect x="937.3" y="1098" width="10" height="16" style="fill:none"/>
<path d="M938.3 1096H946.3M942.3 1096V1098"/>
<circle cx="868" cy="1099"/>
<circle cx="871.5" cy="1097.5"/>
<circle cx="875.3" cy="1099"/>
<circle cx="868" cy="1102.5"/>
<circle cx="875" cy="1102"/>
<circle cx="871.5" cy="1105.5"/>
<circle cx="885.7" cy="1093.5"/>
<circle cx="889.3" cy="1092"/>
<circle cx="893" cy="1095"/>
<circle cx="885.7" cy="1097"/>
<circle cx="890" cy="1096.5"/>
<circle cx="903" cy="1091.5"/>
<circle cx="906.7" cy="1088"/>
<circle cx="910.5" cy="1090.5"/>
<circle cx="903" cy="1094.5"/>
<circle cx="906.7" cy="1093"/>
<circle cx="910.5" cy="1095"/>
<circle cx="920.5" cy="1101"/>
<circle cx="928" cy="1099"/>
<circle cx="924.3" cy="1103"/>
<circle cx="928" cy="1104.5"/>
<circle cx="924.3" cy="1109"/>
<circle cx="942.5" cy="1094.5"/>
<circle cx="938.8" cy="1096"/>
<circle cx="946" cy="1095.5"/>
<circle cx="942.5" cy="1099"/>
<circle cx="939" cy="1102"/>
<rect x="965.9" y="1073.7" width="10" height="40.3"/>
<path d="M966.9 1071H974.9M970.9 1071V1073.7"/>
<rect x="983.5" y="1067.4" width="10" height="46.6" style="fill:#ff8000"/>
<path d="M984.5 1065H992.5M988.5 1065V1067.4"/>
<clipPath id="c5"><rect x="1001.1" y="1067.4" width="10" height="46.6"/></clipPath>
<rect x="1001.1" y="1067.4" width="10" height="46.6" style="fill:#ff8000;stroke:none"/>
<path d="M999.1 1070L1013.1 1056.7M999.1 1076.2L1013.1 1062.9M999.1 1082.3L1013.1 1069M999.1 1088.5L1013.1 1075.2M999.1 1094.6L1013.1 1081.3M999.1 1100.8L1013.1 1087.5M999.1 1106.9L1013.1 1093.6M999.1 1113.1L1013.1 1099.8M999.1 1119.2L1013.1 1105.9M999.1 1125.4L1013.1 1112.1" clip-path="url(#c5)" style="stroke:#fff;stroke-width:1.85"/>
<rect x="1001.1" y="1067.4" width="10" height="46.6" style="fill:none"/>
<path d="M1002.1 1063.5H1010.1M1006.1 1063.5V1067.4"/>
<rect x="1018.7" y="1084.5" width="10" height="29.5" style="fill:#02c002"/>
<path d="M1019.7 1082H1027.7M1023.7 1082V1084.5"/>
<clipPath id="c6"><rect x="1036.3" y="1080.1" width="10" height="33.9"/></clipPath>
<rect x="1036.3" y="1080.1" width="10" height="33.9" style="fill:#02c002;stroke:none"/>
<path d="M1034.3 1082.3L1048.3 1069M1034.3 1088.5L1048.3 1075.2M1034.3 1094.6L1048.3 1081.3M1034.3 1100.8L1048.3 1087.5M1034.3 1106.9L1048.3 1093.6M1034.3 1113.1L1048.3 1099.8M1034.3 1119.2L1048.3 1105.9M1034.3 1125.4L1048.3 1112.1" clip-path="url(#c6)" style="stroke:#fff;stroke-width:1.85"/>
<rect x="1036.3" y="1080.1" width="10" height="33.9" style="fill:none"/>
<path d="M1037.3 1073.5H1045.3M1041.3 1073.5V1080.1"/>
<circle cx="971" cy="1064.5"/>
<circle cx="967.3" cy="1072.5"/>
<circle cx="974.7" cy="1075"/>
<circle cx="967.3" cy="1076.5"/>
<circle cx="971" cy="1077"/>
<circle cx="974.5" cy="1077"/>
<circle cx="988.6" cy="1059.5"/>
<circle cx="985" cy="1063"/>
<circle cx="992" cy="1064"/>
<circle cx="988.6" cy="1066.5"/>
<circle cx="985" cy="1072"/>
<circle cx="992" cy="1070"/>
<circle cx="1001.5" cy="1060"/>
<circle cx="1008.5" cy="1061.5"/>
<circle cx="1005.7" cy="1064"/>
<circle cx="1001.5" cy="1068"/>
<circle cx="1008.5" cy="1068.5"/>
<circle cx="1005.7" cy="1077.5"/>
<circle cx="1027.5" cy="1076"/>
<circle cx="1020.5" cy="1078.5"/>
<circle cx="1024" cy="1080"/>
<circle cx="1027.5" cy="1083"/>
<circle cx="1020.5" cy="1085"/>
<circle cx="1024" cy="1083.5"/>
<circle cx="1041.5" cy="1065.5"/>
<circle cx="1038" cy="1075"/>
<circle cx="1045" cy="1077.5"/>
<circle cx="1038" cy="1078.5"/>
<circle cx="1041.5" cy="1079"/>
<circle cx="1045" cy="1079"/>
<rect x="1065.2" y="1032.4" width="10" height="81.6"/>
<path d="M1066.2 1030H1074.2M1070.2 1030V1032.4"/>
<rect x="1082.8" y="1018.3" width="10" height="95.7" style="fill:#ff8000"/>
<path d="M1083.8 1014H1091.8M1087.8 1014V1018.3"/>
<clipPath id="c7"><rect x="1100.4" y="1017" width="10" height="97"/></clipPath>
<rect x="1100.4" y="1017" width="10" height="97" style="fill:#ff8000;stroke:none"/>
<path d="M1098.4 1014.7L1112.4 1001.4M1098.4 1020.8L1112.4 1007.5M1098.4 1027L1112.4 1013.7M1098.4 1033.1L1112.4 1019.8M1098.4 1039.3L1112.4 1026M1098.4 1045.4L1112.4 1032.1M1098.4 1051.6L1112.4 1038.3M1098.4 1057.7L1112.4 1044.4M1098.4 1063.9L1112.4 1050.6M1098.4 1070L1112.4 1056.7M1098.4 1076.2L1112.4 1062.9M1098.4 1082.3L1112.4 1069M1098.4 1088.5L1112.4 1075.2M1098.4 1094.6L1112.4 1081.3M1098.4 1100.8L1112.4 1087.5M1098.4 1106.9L1112.4 1093.6M1098.4 1113.1L1112.4 1099.8M1098.4 1119.2L1112.4 1105.9M1098.4 1125.4L1112.4 1112.1" clip-path="url(#c7)" style="stroke:#fff;stroke-width:1.85"/>
<rect x="1100.4" y="1017" width="10" height="97" style="fill:none"/>
<path d="M1101.4 1011H1109.4M1105.4 1011V1017"/>
<rect x="1118" y="999" width="10" height="115" style="fill:#02c002"/>
<path d="M1119 991H1127M1123 991V999"/>
<clipPath id="c8"><rect x="1135.6" y="1024.7" width="10" height="89.3"/></clipPath>
<rect x="1135.6" y="1024.7" width="10" height="89.3" style="fill:#02c002;stroke:none"/>
<path d="M1133.6 1027L1147.6 1013.6M1133.6 1033.1L1147.6 1019.8M1133.6 1039.3L1147.6 1026M1133.6 1045.4L1147.6 1032.1M1133.6 1051.6L1147.6 1038.3M1133.6 1057.7L1147.6 1044.4M1133.6 1063.9L1147.6 1050.6M1133.6 1070L1147.6 1056.7M1133.6 1076.2L1147.6 1062.9M1133.6 1082.3L1147.6 1069M1133.6 1088.5L1147.6 1075.2M1133.6 1094.6L1147.6 1081.3M1133.6 1100.8L1147.6 1087.5M1133.6 1106.9L1147.6 1093.6M1133.6 1113.1L1147.6 1099.8M1133.6 1119.2L1147.6 1105.9M1133.6 1125.4L1147.6 1112.1" clip-path="url(#c8)" style="stroke:#fff;stroke-width:1.85"/>
<rect x="1135.6" y="1024.7" width="10" height="89.3" style="fill:none"/>
<path d="M1136.6 1019H1144.6M1140.6 1019V1024.7"/>
<circle cx="1066.5" cy="1027"/>
<circle cx="1073.5" cy="1024"/>
<circle cx="1070" cy="1030"/>
<circle cx="1066.5" cy="1032"/>
<circle cx="1073.5" cy="1032.5"/>
<circle cx="1066.5" cy="1036"/>
<circle cx="1087.5" cy="1006.5"/>
<circle cx="1084" cy="1014"/>
<circle cx="1091" cy="1016"/>
<circle cx="1084" cy="1020.5"/>
<circle cx="1091" cy="1021"/>
<circle cx="1087.5" cy="1027.5"/>
<circle cx="1105.3" cy="996.5"/>
<circle cx="1101.7" cy="1015.5"/>
<circle cx="1108.8" cy="1015"/>
<circle cx="1101.7" cy="1022"/>
<circle cx="1105.3" cy="1018.5"/>
<circle cx="1109" cy="1018.5"/>
<circle cx="1122.7" cy="972.5"/>
<circle cx="1119.5" cy="994"/>
<circle cx="1126.5" cy="995"/>
<circle cx="1122.7" cy="995.5"/>
<circle cx="1122.7" cy="1007.5"/>
<circle cx="1122.7" cy="1025.5"/>
<circle cx="1136.5" cy="1012"/>
<circle cx="1144.3" cy="1008.5"/>
<circle cx="1140.5" cy="1024.5"/>
<circle cx="1136.5" cy="1038"/>
<circle cx="1140.5" cy="1030.5"/>
<circle cx="1144.5" cy="1035"/>
<rect x="1164.4" y="889.4" width="10" height="224.6"/>
<path d="M1165.4 875.3H1173.4M1169.4 875.3V889.4"/>
<rect x="1182" y="828.9" width="10" height="285.1" style="fill:#ff8000"/>
<path d="M1183 816H1191M1187 816V828.9"/>
<clipPath id="c9"><rect x="1199.6" y="814.2" width="10" height="299.8"/></clipPath>
<rect x="1199.6" y="814.2" width="10" height="299.8" style="fill:#ff8000;stroke:none"/>
<path d="M1197.6 811.7L1211.6 798.4M1197.6 817.9L1211.6 804.6M1197.6 824L1211.6 810.7M1197.6 830.1L1211.6 816.9M1197.6 836.3L1211.6 823M1197.6 842.4L1211.6 829.1M1197.6 848.6L1211.6 835.3M1197.6 854.7L1211.6 841.4M1197.6 860.9L1211.6 847.6M1197.6 867L1211.6 853.7M1197.6 873.2L1211.6 859.9M1197.6 879.3L1211.6 866M1197.6 885.5L1211.6 872.2M1197.6 891.6L1211.6 878.3M1197.6 897.8L1211.6 884.5M1197.6 903.9L1211.6 890.6M1197.6 910.1L1211.6 896.8M1197.6 916.2L1211.6 902.9M1197.6 922.4L1211.6 909.1M1197.6 928.5L1211.6 915.2M1197.6 934.7L1211.6 921.4M1197.6 940.8L1211.6 927.5M1197.6 947L1211.6 933.7M1197.6 953.1L1211.6 939.8M1197.6 959.3L1211.6 946M1197.6 965.4L1211.6 952.1M1197.6 971.6L1211.6 958.3M1197.6 977.7L1211.6 964.4M1197.6 983.9L1211.6 970.6M1197.6 990L1211.6 976.7M1197.6 996.2L1211.6 982.9M1197.6 1002.3L1211.6 989M1197.6 1008.5L1211.6 995.2M1197.6 1014.6L1211.6 1001.3M1197.6 1020.8L1211.6 1007.5M1197.6 1026.9L1211.6 1013.6M1197.6 1033.1L1211.6 1019.8M1197.6 1039.2L1211.6 1025.9M1197.6 1045.4L1211.6 1032.1M1197.6 1051.5L1211.6 1038.2M1197.6 1057.7L1211.6 1044.4M1197.6 1063.8L1211.6 1050.5M1197.6 1070L1211.6 1056.7M1197.6 1076.2L1211.6 1062.8M1197.6 1082.3L1211.6 1069M1197.6 1088.5L1211.6 1075.2M1197.6 1094.6L1211.6 1081.3M1197.6 1100.8L1211.6 1087.5M1197.6 1106.9L1211.6 1093.6M1197.6 1113.1L1211.6 1099.8M1197.6 1119.2L1211.6 1105.9M1197.6 1125.4L1211.6 1112.1" clip-path="url(#c9)" style="stroke:#fff;stroke-width:1.85"/>
<rect x="1199.6" y="814.2" width="10" height="299.8" style="fill:none"/>
<path d="M1200.6 795.9H1208.6M1204.6 795.9V814.2"/>
<rect x="1217.2" y="841.8" width="10" height="272.2" style="fill:#02c002"/>
<path d="M1218.2 825.5H1226.2M1222.2 825.5V841.8"/>
<clipPath id="c10"><rect x="1234.8" y="834" width="10" height="280"/></clipPath>
<rect x="1234.8" y="834" width="10" height="280" style="fill:#02c002;stroke:none"/>
<path d="M1232.8 836.3L1246.8 823M1232.8 842.5L1246.8 829.2M1232.8 848.6L1246.8 835.3M1232.8 854.8L1246.8 841.5M1232.8 860.9L1246.8 847.6M1232.8 867L1246.8 853.8M1232.8 873.2L1246.8 859.9M1232.8 879.3L1246.8 866M1232.8 885.5L1246.8 872.2M1232.8 891.6L1246.8 878.3M1232.8 897.8L1246.8 884.5M1232.8 903.9L1246.8 890.6M1232.8 910.1L1246.8 896.8M1232.8 916.2L1246.8 902.9M1232.8 922.4L1246.8 909.1M1232.8 928.5L1246.8 915.2M1232.8 934.7L1246.8 921.4M1232.8 940.8L1246.8 927.5M1232.8 947L1246.8 933.7M1232.8 953.1L1246.8 939.8M1232.8 959.3L1246.8 946M1232.8 965.4L1246.8 952.1M1232.8 971.6L1246.8 958.3M1232.8 977.7L1246.8 964.4M1232.8 983.9L1246.8 970.6M1232.8 990L1246.8 976.7M1232.8 996.2L1246.8 982.9M1232.8 1002.3L1246.8 989M1232.8 1008.5L1246.8 995.2M1232.8 1014.6L1246.8 1001.3M1232.8 1020.8L1246.8 1007.5M1232.8 1026.9L1246.8 1013.6M1232.8 1033.1L1246.8 1019.8M1232.8 1039.2L1246.8 1025.9M1232.8 1045.4L1246.8 1032.1M1232.8 1051.5L1246.8 1038.2M1232.8 1057.7L1246.8 1044.4M1232.8 1063.9L1246.8 1050.5M1232.8 1070L1246.8 1056.7M1232.8 1076.2L1246.8 1062.9M1232.8 1082.3L1246.8 1069M1232.8 1088.5L1246.8 1075.2M1232.8 1094.6L1246.8 1081.3M1232.8 1100.8L1246.8 1087.5M1232.8 1106.9L1246.8 1093.6M1232.8 1113.1L1246.8 1099.8M1232.8 1119.2L1246.8 1105.9M1232.8 1125.4L1246.8 1112.1" clip-path="url(#c10)" style="stroke:#fff;stroke-width:1.85"/>
<rect x="1234.8" y="834" width="10" height="280" style="fill:none"/>
<path d="M1235.8 814H1243.8M1239.8 814V834"/>
<circle cx="1169.3" cy="855.5"/>
<circle cx="1169.3" cy="865"/>
<circle cx="1169.3" cy="885"/>
<circle cx="1165.6" cy="888"/>
<circle cx="1173.5" cy="890.5"/>
<circle cx="1169.3" cy="952"/>
<circle cx="1187" cy="784"/>
<circle cx="1187" cy="802"/>
<circle cx="1183" cy="837.5"/>
<circle cx="1191" cy="837"/>
<circle cx="1187" cy="846.5"/>
<circle cx="1187" cy="863"/>
<circle cx="1204.5" cy="767"/>
<circle cx="1204.5" cy="778.5"/>
<circle cx="1204.5" cy="796"/>
<circle cx="1204.5" cy="828"/>
<circle cx="1200.5" cy="856.5"/>
<circle cx="1208.5" cy="856"/>
<circle cx="1222.2" cy="794"/>
<circle cx="1222.2" cy="799.5"/>
<circle cx="1222.2" cy="838.5"/>
<circle cx="1222.2" cy="861"/>
<circle cx="1222.2" cy="871.5"/>
<circle cx="1222.2" cy="883"/>
<circle cx="1239.7" cy="774.5"/>
<circle cx="1239.7" cy="788.5"/>
<circle cx="1239.7" cy="826"/>
<circle cx="1239.7" cy="837"/>
<circle cx="1239.7" cy="877"/>
<circle cx="1239.7" cy="897"/>
<rect x="770.5" y="745.2" width="12.1" height="17.2"/>
<text x="790.8" y="760.9">Ctrl</text>
<rect x="770.5" y="772.5" width="12.1" height="17.2" style="fill:#ff8000"/>
<text x="790.8" y="788.1">CTHRC1 + IgG</text>
<clipPath id="c11"><rect x="770.5" y="799.8" width="12.1" height="17.2"/></clipPath>
<rect x="770.5" y="799.8" width="12.1" height="17.2" style="fill:#ff8000;stroke:none"/>
<path d="M768.5 802.1L784.6 786.9M768.5 808.3L784.6 793M768.5 814.4L784.6 799.2M768.5 820.6L784.6 805.3M768.5 826.7L784.6 811.5M768.5 832.9L784.6 817.6" clip-path="url(#c11)" style="stroke:#fff;stroke-width:1.85"/>
<rect x="770.5" y="799.8" width="12.1" height="17.2" style="fill:none"/>
<text x="790.8" y="816.3">CTHRC1+ anti-TGF<tspan font-family="Liberation Serif, serif">β</tspan></text>
<rect x="770.5" y="825.9" width="12.1" height="17.2" style="fill:#02c002"/>
<text x="790.8" y="842.8">TGF<tspan font-family="Liberation Serif, serif">β</tspan> + IgG</text>
<clipPath id="c12"><rect x="770.5" y="856.5" width="12.1" height="17.2"/></clipPath>
<rect x="770.5" y="856.5" width="12.1" height="17.2" style="fill:#02c002;stroke:none"/>
<path d="M768.5 858.9L784.6 843.6M768.5 865L784.6 849.7M768.5 871.1L784.6 855.9M768.5 877.3L784.6 862M768.5 883.4L784.6 868.2M768.5 889.6L784.6 874.3" clip-path="url(#c12)" style="stroke:#fff;stroke-width:1.85"/>
<rect x="770.5" y="856.5" width="12.1" height="17.2" style="fill:none"/>
<text x="790.8" y="873">TGF<tspan font-family="Liberation Serif, serif">β</tspan> + anti-TGF<tspan font-family="Liberation Serif, serif">β</tspan></text>
<text x="807.3" y="1147" text-anchor="middle">Basal</text>
<text x="906.6" y="1147" text-anchor="middle">Uncoupled</text>
<text x="1005.6" y="1148" text-anchor="middle">Coupled</text>
<text x="1104.9" y="1148.2" text-anchor="middle">cAMP stim</text>
<text x="1104.9" y="1171.4" text-anchor="middle">uncoupled</text>
<text x="1204.1" y="1148.2" text-anchor="middle">Maximal</text>
<text x="706.3" y="924" text-anchor="middle" transform="rotate(-90 706.3 924)">OCR (pmol/min/<tspan font-family="Liberation Serif, serif">μ</tspan>g protein)</text>
<text x="790.3" y="1034.2" class="s">*</text>
<text x="809.3" y="1034.2" class="s">*</text>
<text x="825.5" y="1064.7" class="s">*</text>
<text x="889" y="1095.7" class="s">*</text>
<text x="1022.5" y="1079.7" class="s">*</text>
<text x="1088" y="1006.7" class="s">*</text>
<text x="1105" y="995.2" class="s">*</text>
<text x="1187" y="785.7" class="s">*</text>
<text x="1204.5" y="765.2" class="s">*</text>
<text x="907.5" y="1086.2" class="s" transform="rotate(-90 907 1072.5)">**</text>
<text x="1125" y="967.7" class="s" transform="rotate(-90 1124.5 954)">**</text>
<text x="1344" y="632.6" style="font-size:38.5px;font-weight:bold;stroke:none">h</text>
<text x="1590.6" y="608.5" text-anchor="middle">PBS</text>
<text x="1813.4" y="608.5" text-anchor="middle">CTHRC1</text>
<path d="M1479.7 614.2L1689.1 614.2" style="stroke:#ff8a1e"/>
<path d="M1709.6 614.4L1919.6 614.4" style="stroke:#ff8a1e"/>
<rect x="1461.3" y="618.5" width="476.7" height="71.4" style="stroke-width:1.5;fill:#fdfdfd"/>
<path d="M1461.3 654.4L1938 654.4" style="stroke-width:1.5"/>
<text x="1451.5" y="643.7" text-anchor="end" style="font-size:19.5px">UCP1</text>
<text x="1452.5" y="680.5" text-anchor="end" style="font-size:19.2px"><tspan font-family="Liberation Serif, serif">γ</tspan>-tubulin</text>
<text x="1944.7" y="643.7" style="font-size:15.9px">33kDa</text>
<text x="1944.7" y="678.2" style="font-size:15.9px">48kDa</text>
<g filter="url(#b1)" class="wb">
<path d="M1480 634Q1492.5 633 1505 634" style="stroke-width:6;opacity:0.7"/>
<path d="M1519 634Q1530.5 633 1542 634" style="stroke-width:8;opacity:0.95"/>
<path d="M1557 634Q1569.5 634 1582 634" style="stroke-width:6;opacity:0.45"/>
<path d="M1595 634Q1608 634 1621 634" style="stroke-width:5;opacity:0.35"/>
<path d="M1633 634Q1646 634 1659 634" style="stroke-width:5;opacity:0.12"/>
<path d="M1673 634Q1685.5 634 1698 634" style="stroke-width:6;opacity:0.55"/>
<path d="M1711.8 634Q1722.5 633 1733.2 634" style="stroke-width:9.5;opacity:1"/>
<path d="M1751.5 634Q1762 633 1772.5 634" style="stroke-width:10;opacity:1"/>
<path d="M1787 635Q1798 635 1809 635" style="stroke-width:9;opacity:1"/>
<path d="M1825 634Q1838.5 634 1852 634" style="stroke-width:4;opacity:0.1"/>
<path d="M1862.5 634Q1876 634 1889.5 634" style="stroke-width:4;opacity:0.08"/>
<path d="M1904 634Q1917.5 634 1931 634" style="stroke-width:4;opacity:0.07"/>
</g>
<g filter="url(#b1)" class="wb">
<path d="M1480 671.5Q1492.5 669.5 1505 671.5" style="stroke-width:6;opacity:0.85"/>
<path d="M1518.8 671.5Q1530.5 669.5 1542.2 671.5" style="stroke-width:7.5;opacity:0.95"/>
<path d="M1558 671.5Q1569.5 669.5 1581 671.5" style="stroke-width:8;opacity:1"/>
<path d="M1596.2 671.5Q1608 670.5 1619.8 671.5" style="stroke-width:7.5;opacity:0.95"/>
<path d="M1635 671.5Q1646 670.5 1657 671.5" style="stroke-width:9;opacity:1"/>
<path d="M1673.5 671.5Q1685.5 671.5 1697.5 671.5" style="stroke-width:7;opacity:0.95"/>
<path d="M1711 671.5Q1722.5 670.5 1734 671.5" style="stroke-width:8;opacity:0.95"/>
<path d="M1750 671.5Q1762 672.5 1774 671.5" style="stroke-width:7;opacity:0.95"/>
<path d="M1785.8 671.5Q1798 670.5 1810.2 671.5" style="stroke-width:6.5;opacity:0.9"/>
<path d="M1826.5 671.5Q1838.5 672.5 1850.5 671.5" style="stroke-width:7;opacity:0.95"/>
<path d="M1863.8 671.5Q1876 671.5 1888.2 671.5" style="stroke-width:6.5;opacity:0.7"/>
<path d="M1905.5 671.5Q1917.5 670.5 1929.5 671.5" style="stroke-width:7;opacity:0.9"/>
</g>
<text x="1530.7" y="714" text-anchor="middle" style="font-size:19.8px">ctrl siRNA</text>
<text x="1648" y="714" text-anchor="middle" style="font-size:19.8px">si<tspan font-style="italic">GPR180</tspan></text>
<text x="1760.2" y="714" text-anchor="middle" style="font-size:19.8px">ctrl siRNA</text>
<text x="1874" y="714" text-anchor="middle" style="font-size:19.8px">si<tspan font-style="italic">GPR180</tspan></text>
<path d="M1463.4 748.8V1115.8M1458.9 749.5H1463.4M1458.9 871.3H1463.4M1458.9 993.2H1463.4M1458.9 1115H1463.4" style="stroke-width:1.5"/>
<text x="1452.4" y="757.1" text-anchor="end">3</text>
<text x="1452.4" y="878.9" text-anchor="end">2</text>
<text x="1452.4" y="1000.8" text-anchor="end">1</text>
<text x="1452.4" y="1122.6" text-anchor="end">0</text>
<path d="M1459 1115H1950M1576.8 1115V1119.5M1836 1115V1119.5" style="stroke-width:1.5"/>
<rect x="1496.4" y="994" width="63.9" height="121" style="stroke-width:1.35"/>
<rect x="1593.9" y="1057.9" width="63.6" height="57.1" style="stroke-width:1.35;fill:#0a7d96"/>
<clipPath id="c13"><rect x="1755.9" y="872.5" width="63.6" height="242.5"/></clipPath>
<rect x="1755.9" y="872.5" width="63.6" height="242.5" style="fill:#ff8000;stroke:none"/>
<path d="M1753.9 873.2L1821.5 805.6M1753.9 879.1L1821.5 811.5M1753.9 885L1821.5 817.4M1753.9 890.9L1821.5 823.3M1753.9 896.8L1821.5 829.2M1753.9 902.7L1821.5 835.1M1753.9 908.6L1821.5 841M1753.9 914.5L1821.5 846.9M1753.9 920.4L1821.5 852.8M1753.9 926.3L1821.5 858.7M1753.9 932.2L1821.5 864.6M1753.9 938.1L1821.5 870.5M1753.9 944L1821.5 876.4M1753.9 949.9L1821.5 882.3M1753.9 955.8L1821.5 888.2M1753.9 961.7L1821.5 894.1M1753.9 967.6L1821.5 900M1753.9 973.5L1821.5 905.9M1753.9 979.4L1821.5 911.8M1753.9 985.3L1821.5 917.7M1753.9 991.2L1821.5 923.6M1753.9 997.1L1821.5 929.5M1753.9 1003L1821.5 935.4M1753.9 1008.9L1821.5 941.3M1753.9 1014.8L1821.5 947.2M1753.9 1020.7L1821.5 953.1M1753.9 1026.6L1821.5 959M1753.9 1032.5L1821.5 964.9M1753.9 1038.4L1821.5 970.8M1753.9 1044.3L1821.5 976.7M1753.9 1050.2L1821.5 982.6M1753.9 1056.1L1821.5 988.5M1753.9 1062L1821.5 994.4M1753.9 1067.9L1821.5 1000.3M1753.9 1073.8L1821.5 1006.2M1753.9 1079.7L1821.5 1012.1M1753.9 1085.6L1821.5 1018M1753.9 1091.5L1821.5 1023.9M1753.9 1097.4L1821.5 1029.8M1753.9 1103.3L1821.5 1035.7M1753.9 1109.2L1821.5 1041.6M1753.9 1115.1L1821.5 1047.5M1753.9 1121L1821.5 1053.4M1753.9 1126.9L1821.5 1059.3M1753.9 1132.8L1821.5 1065.2M1753.9 1138.7L1821.5 1071.1M1753.9 1144.6L1821.5 1077M1753.9 1150.5L1821.5 1082.9M1753.9 1156.4L1821.5 1088.8M1753.9 1162.3L1821.5 1094.7M1753.9 1168.2L1821.5 1100.6M1753.9 1174.1L1821.5 1106.5M1753.9 1180L1821.5 1112.4" clip-path="url(#c13)" style="stroke:#fff;stroke-width:1.98"/>
<rect x="1755.9" y="872.5" width="63.6" height="242.5" style="stroke-width:1.35;fill:none"/>
<clipPath id="c14"><rect x="1853.1" y="1084" width="63.9" height="31"/></clipPath>
<rect x="1853.1" y="1084" width="63.9" height="31" style="fill:#0a7d96;stroke:none"/>
<path d="M1851.1 1083L1919 1015.1M1851.1 1088.7L1919 1020.8M1851.1 1094.4L1919 1026.5M1851.1 1100.1L1919 1032.2M1851.1 1105.8L1919 1037.9M1851.1 1111.5L1919 1043.6M1851.1 1117.2L1919 1049.3M1851.1 1122.9L1919 1055M1851.1 1128.6L1919 1060.7M1851.1 1134.3L1919 1066.4M1851.1 1140L1919 1072.1M1851.1 1145.7L1919 1077.8M1851.1 1151.4L1919 1083.5M1851.1 1157.1L1919 1089.2M1851.1 1162.8L1919 1094.9M1851.1 1168.5L1919 1100.6M1851.1 1174.2L1919 1106.3M1851.1 1179.9L1919 1112M1851.1 1185.6L1919 1117.7" clip-path="url(#c14)" style="stroke:#ff8000;stroke-width:1.48"/>
<rect x="1853.1" y="1084" width="63.9" height="31" style="stroke-width:1.35;fill:none"/>
<path d="M1512.2 982H1544.2M1528.2 982V994" style="stroke-width:1.5"/>
<path d="M1609.4 1047.7H1641.4M1625.4 1047.7V1057.9" style="stroke-width:1.5"/>
<path d="M1771.4 857.2H1803.4M1787.4 857.2V872.5" style="stroke-width:1.5"/>
<path d="M1869 1081H1901M1885 1081V1084" style="stroke-width:1.5"/>
<circle cx="1528.2" cy="958"/>
<circle cx="1528.2" cy="969.1"/>
<circle cx="1528.2" cy="986"/>
<circle cx="1528.2" cy="998.5"/>
<circle cx="1524.3" cy="1025.2"/>
<circle cx="1532.1" cy="1024"/>
<circle cx="1625.4" cy="1015.3"/>
<circle cx="1625.4" cy="1051"/>
<circle cx="1625.4" cy="1057.6"/>
<circle cx="1618" cy="1075"/>
<circle cx="1625.4" cy="1072.6"/>
<circle cx="1633" cy="1072.6"/>
<circle cx="1787.4" cy="811.9"/>
<circle cx="1787.4" cy="855.7"/>
<circle cx="1783.8" cy="877.6"/>
<circle cx="1791.3" cy="876.4"/>
<circle cx="1787.4" cy="899.8"/>
<circle cx="1787.4" cy="907"/>
<circle cx="1885" cy="1073.8"/>
<circle cx="1885" cy="1079"/>
<circle cx="1881.3" cy="1084.6"/>
<circle cx="1888.6" cy="1082.5"/>
<circle cx="1885" cy="1087.6"/>
<circle cx="1885" cy="1093.3"/>
<path d="M1524.6 947.5V835.9H1782.9V844" class="b"/>
<path d="M1791 844V835.9H1885V1055.5" class="b"/>
<path d="M1532.4 947.5V940H1624.2V1002.4" class="b"/>
<text x="1664" y="839.1" class="s">***</text>
<text x="1830.5" y="839.1" class="s">***</text>
<text x="1574.6" y="943.2" class="s">**</text>
<rect x="1473.2" y="749" width="12.4" height="17"/>
<rect x="1473.2" y="775" width="12.4" height="17" style="fill:#0a7d96"/>
<text x="1493.4" y="764.5">ctrl siRNA</text>
<text x="1493.4" y="790.9">si<tspan font-style="italic">GPR180</tspan></text>
<text x="1576.8" y="1151" text-anchor="middle">PBS</text>
<text x="1836" y="1151" text-anchor="middle">CTHRC1</text>
<text x="1421.3" y="926" text-anchor="middle" style="font-size:20px" transform="rotate(-90 1421.3 926)">UCP1/<tspan font-family="Liberation Serif, serif">γ</tspan>-tubulin</text>
<text x="0.7" y="1350" style="font-size:38.5px;font-weight:bold;stroke:none">i</text>
<path d="M77.4 1353.7V1720.1M72.9 1354.6H77.4M72.9 1415.4H77.4M72.9 1476.2H77.4M72.9 1536.9H77.4M72.9 1597.7H77.4M72.9 1658.5H77.4M72.9 1719.3H77.4"/>
<text x="66.4" y="1362.2" text-anchor="end">30</text>
<text x="66.4" y="1423" text-anchor="end">25</text>
<text x="66.4" y="1483.8" text-anchor="end">20</text>
<text x="66.4" y="1544.5" text-anchor="end">15</text>
<text x="66.4" y="1605.3" text-anchor="end">10</text>
<text x="66.4" y="1666.1" text-anchor="end">5</text>
<text x="66.4" y="1726.9" text-anchor="end">0</text>
<path d="M73 1719.3H564.8M123 1719.3V1723.8M221.7 1719.3V1723.8M320 1719.3V1723.8M418.9 1719.3V1723.8M517.9 1719.3V1723.8"/>
<rect x="84.5" y="1654.7" width="11.9" height="64.6"/>
<path d="M87 1653H94M90.5 1653V1654.7"/>
<rect x="106" y="1636.5" width="11.9" height="82.8" style="fill:#ff8000"/>
<path d="M108.4 1634.5H115.4M111.9 1634.5V1636.5"/>
<rect x="127.4" y="1650.8" width="11.9" height="68.5" style="fill:#0a7d96"/>
<path d="M129.8 1649H136.8M133.3 1649V1650.8"/>
<clipPath id="c15"><rect x="148.8" y="1646.9" width="11.9" height="72.4"/></clipPath>
<rect x="148.8" y="1646.9" width="11.9" height="72.4" style="fill:#0a7d96;stroke:none"/>
<path d="M146.8 1644.7L162.6 1628.8M146.8 1651L162.6 1635.1M146.8 1657.3L162.6 1641.4M146.8 1663.7L162.6 1647.8M146.8 1670L162.6 1654.1M146.8 1676.4L162.6 1660.5M146.8 1682.7L162.6 1666.8M146.8 1689.1L162.6 1673.2M146.8 1695.4L162.6 1679.5M146.8 1701.8L162.6 1685.9M146.8 1708.1L162.6 1692.2M146.8 1714.5L162.6 1698.6M146.8 1720.8L162.6 1704.9M146.8 1727.2L162.6 1711.3M146.8 1733.5L162.6 1717.6" clip-path="url(#c15)" style="stroke:#ff6400;stroke-width:2.05"/>
<rect x="148.8" y="1646.9" width="11.9" height="72.4" style="fill:none"/>
<path d="M151.2 1644H158.2M154.7 1644V1646.9"/>
<circle cx="90.8" cy="1646.7"/>
<circle cx="87.9" cy="1647.5"/>
<circle cx="94.8" cy="1649.9"/>
<circle cx="91.4" cy="1652.6"/>
<circle cx="87.1" cy="1653.1"/>
<circle cx="95.2" cy="1655.9"/>
<circle cx="91.5" cy="1657"/>
<circle cx="87.5" cy="1660.4"/>
<circle cx="94.5" cy="1662.9"/>
<circle cx="91.7" cy="1663.1"/>
<circle cx="113.3" cy="1632.9"/>
<circle cx="108.5" cy="1632.5"/>
<circle cx="117" cy="1635.1"/>
<circle cx="113" cy="1635.6"/>
<circle cx="109.1" cy="1637.5"/>
<circle cx="116.7" cy="1638"/>
<circle cx="112.7" cy="1639.8"/>
<circle cx="109.3" cy="1642.3"/>
<circle cx="117.1" cy="1642.8"/>
<circle cx="112.7" cy="1643.5"/>
<circle cx="133.8" cy="1644.6"/>
<circle cx="130.1" cy="1646.2"/>
<circle cx="138.1" cy="1646.5"/>
<circle cx="133.5" cy="1649.5"/>
<circle cx="130" cy="1649.7"/>
<circle cx="138.5" cy="1651.7"/>
<circle cx="134.5" cy="1653.1"/>
<circle cx="130.5" cy="1653.9"/>
<circle cx="138.1" cy="1656.8"/>
<circle cx="134.1" cy="1658"/>
<circle cx="155" cy="1638.2"/>
<circle cx="151.4" cy="1640.1"/>
<circle cx="158.6" cy="1642.4"/>
<circle cx="155.8" cy="1644.9"/>
<circle cx="151.8" cy="1645.6"/>
<circle cx="159.1" cy="1647.4"/>
<circle cx="154.9" cy="1648.9"/>
<circle cx="151.2" cy="1652.3"/>
<circle cx="159.5" cy="1653.8"/>
<circle cx="155.7" cy="1654.4"/>
<rect x="183.2" y="1695" width="11.9" height="24.3"/>
<path d="M185.7 1694H192.7M189.2 1694V1695"/>
<rect x="204.7" y="1693" width="11.9" height="26.3" style="fill:#ff8000"/>
<path d="M207.1 1692H214.1M210.6 1692V1693"/>
<rect x="226.1" y="1693" width="11.9" height="26.3" style="fill:#0a7d96"/>
<path d="M228.5 1692H235.5M232 1692V1693"/>
<clipPath id="c16"><rect x="247.4" y="1695" width="11.9" height="24.3"/></clipPath>
<rect x="247.4" y="1695" width="11.9" height="24.3" style="fill:#0a7d96;stroke:none"/>
<path d="M245.4 1695.4L261.3 1679.5M245.4 1701.8L261.3 1685.9M245.4 1708.1L261.3 1692.2M245.4 1714.5L261.3 1698.6M245.4 1720.8L261.3 1704.9M245.4 1727.2L261.3 1711.3M245.4 1733.5L261.3 1717.6" clip-path="url(#c16)" style="stroke:#ff6400;stroke-width:2.05"/>
<rect x="247.4" y="1695" width="11.9" height="24.3" style="fill:none"/>
<path d="M249.9 1693.5H256.9M253.4 1693.5V1695"/>
<circle cx="190" cy="1688.5"/>
<circle cx="186.5" cy="1690.2"/>
<circle cx="194" cy="1691.5"/>
<circle cx="189.3" cy="1691.9"/>
<circle cx="186.6" cy="1693.6"/>
<circle cx="194.2" cy="1693.9"/>
<circle cx="189.9" cy="1695.5"/>
<circle cx="186.2" cy="1697.5"/>
<circle cx="193.1" cy="1698.1"/>
<circle cx="189.6" cy="1700.8"/>
<circle cx="189.9" cy="1686"/>
<circle cx="211.6" cy="1689.6"/>
<circle cx="207.4" cy="1689.3"/>
<circle cx="214.4" cy="1690.9"/>
<circle cx="211.2" cy="1691.9"/>
<circle cx="207.2" cy="1692.7"/>
<circle cx="214.7" cy="1693.5"/>
<circle cx="211.5" cy="1693.5"/>
<circle cx="207.4" cy="1694.8"/>
<circle cx="214.6" cy="1695.3"/>
<circle cx="211.6" cy="1695.5"/>
<circle cx="232.2" cy="1687.3"/>
<circle cx="228.8" cy="1687.9"/>
<circle cx="236.2" cy="1689.3"/>
<circle cx="231.9" cy="1690.3"/>
<circle cx="228" cy="1691"/>
<circle cx="235.7" cy="1691.1"/>
<circle cx="232.3" cy="1693.3"/>
<circle cx="228.1" cy="1692.9"/>
<circle cx="236.4" cy="1695.1"/>
<circle cx="232.5" cy="1694.8"/>
<circle cx="253.5" cy="1689.9"/>
<circle cx="249.6" cy="1690.5"/>
<circle cx="257.1" cy="1690.7"/>
<circle cx="254.4" cy="1691.8"/>
<circle cx="250.2" cy="1693.4"/>
<circle cx="257.5" cy="1694.5"/>
<circle cx="253.4" cy="1696.3"/>
<circle cx="249.5" cy="1696.2"/>
<circle cx="257" cy="1697.4"/>
<circle cx="253.7" cy="1699.8"/>
<rect x="281.6" y="1675.6" width="11.9" height="43.7"/>
<path d="M284 1674.5H291M287.5 1674.5V1675.6"/>
<rect x="302.9" y="1666.4" width="11.9" height="52.9" style="fill:#ff8000"/>
<path d="M305.4 1665H312.4M308.9 1665V1666.4"/>
<rect x="324.4" y="1678.2" width="11.9" height="41.1" style="fill:#0a7d96"/>
<path d="M326.8 1677H333.8M330.3 1677V1678.2"/>
<clipPath id="c17"><rect x="345.8" y="1673.7" width="11.9" height="45.6"/></clipPath>
<rect x="345.8" y="1673.7" width="11.9" height="45.6" style="fill:#0a7d96;stroke:none"/>
<path d="M343.8 1676.4L359.6 1660.5M343.8 1682.7L359.6 1666.8M343.8 1689.1L359.6 1673.2M343.8 1695.4L359.6 1679.5M343.8 1701.8L359.6 1685.9M343.8 1708.1L359.6 1692.2M343.8 1714.5L359.6 1698.6M343.8 1720.8L359.6 1704.9M343.8 1727.2L359.6 1711.3M343.8 1733.5L359.6 1717.6" clip-path="url(#c17)" style="stroke:#ff6400;stroke-width:2.05"/>
<rect x="345.8" y="1673.7" width="11.9" height="45.6" style="fill:none"/>
<path d="M348.2 1672H355.2M351.7 1672V1673.7"/>
<circle cx="288.4" cy="1670.2"/>
<circle cx="284.2" cy="1672.5"/>
<circle cx="291.6" cy="1673"/>
<circle cx="288.9" cy="1673.3"/>
<circle cx="284.7" cy="1675.6"/>
<circle cx="291.6" cy="1676.4"/>
<circle cx="288.6" cy="1677.7"/>
<circle cx="284.9" cy="1678.4"/>
<circle cx="291.9" cy="1679.5"/>
<circle cx="288.4" cy="1682.3"/>
<circle cx="310.1" cy="1659.9"/>
<circle cx="306.3" cy="1660.7"/>
<circle cx="314.2" cy="1663.3"/>
<circle cx="310.2" cy="1663.3"/>
<circle cx="306.2" cy="1665"/>
<circle cx="313.5" cy="1667.6"/>
<circle cx="310.6" cy="1667.1"/>
<circle cx="306.6" cy="1669.5"/>
<circle cx="313.7" cy="1670.2"/>
<circle cx="310.2" cy="1671.9"/>
<circle cx="331.2" cy="1672.1"/>
<circle cx="328" cy="1673"/>
<circle cx="335.1" cy="1674.4"/>
<circle cx="330.9" cy="1675.4"/>
<circle cx="327.7" cy="1677"/>
<circle cx="334.6" cy="1677.2"/>
<circle cx="330.8" cy="1679.3"/>
<circle cx="327.7" cy="1678.9"/>
<circle cx="335.7" cy="1681.8"/>
<circle cx="331.5" cy="1682.2"/>
<circle cx="353" cy="1665.3"/>
<circle cx="349.4" cy="1666.1"/>
<circle cx="356.2" cy="1668.3"/>
<circle cx="352.7" cy="1671"/>
<circle cx="349.4" cy="1672.3"/>
<circle cx="356.9" cy="1674.2"/>
<circle cx="352.6" cy="1675.5"/>
<circle cx="348.8" cy="1678.3"/>
<circle cx="356.3" cy="1679.9"/>
<circle cx="352.5" cy="1681.4"/>
<rect x="380.4" y="1649.5" width="11.9" height="69.8"/>
<path d="M382.9 1647.5H389.9M386.4 1647.5V1649.5"/>
<rect x="401.8" y="1639.1" width="11.9" height="80.2" style="fill:#ff8000"/>
<path d="M404.3 1637.5H411.3M407.8 1637.5V1639.1"/>
<rect x="423.2" y="1658.6" width="11.9" height="60.7" style="fill:#0a7d96"/>
<path d="M425.7 1657H432.7M429.2 1657V1658.6"/>
<clipPath id="c18"><rect x="444.6" y="1656" width="11.9" height="63.3"/></clipPath>
<rect x="444.6" y="1656" width="11.9" height="63.3" style="fill:#0a7d96;stroke:none"/>
<path d="M442.6 1657.3L458.5 1641.4M442.6 1663.7L458.5 1647.8M442.6 1670L458.5 1654.1M442.6 1676.4L458.5 1660.5M442.6 1682.7L458.5 1666.8M442.6 1689.1L458.5 1673.2M442.6 1695.4L458.5 1679.5M442.6 1701.8L458.5 1685.9M442.6 1708.1L458.5 1692.2M442.6 1714.5L458.5 1698.6M442.6 1720.8L458.5 1704.9M442.6 1727.2L458.5 1711.3M442.6 1733.5L458.5 1717.6" clip-path="url(#c18)" style="stroke:#ff6400;stroke-width:2.05"/>
<rect x="444.6" y="1656" width="11.9" height="63.3" style="fill:none"/>
<path d="M447.1 1653H454.1M450.6 1653V1656"/>
<circle cx="386.9" cy="1639.4"/>
<circle cx="383.6" cy="1641.7"/>
<circle cx="390.6" cy="1642.5"/>
<circle cx="386.8" cy="1644.5"/>
<circle cx="383.7" cy="1646.3"/>
<circle cx="391" cy="1648.4"/>
<circle cx="387" cy="1650.9"/>
<circle cx="383.8" cy="1653.2"/>
<circle cx="390.4" cy="1654.6"/>
<circle cx="386.8" cy="1657.7"/>
<circle cx="408" cy="1632.4"/>
<circle cx="404.9" cy="1634.1"/>
<circle cx="412" cy="1634"/>
<circle cx="408.8" cy="1636.1"/>
<circle cx="404.5" cy="1637.4"/>
<circle cx="412.2" cy="1638.8"/>
<circle cx="408" cy="1638.9"/>
<circle cx="405.2" cy="1640.5"/>
<circle cx="412" cy="1642.6"/>
<circle cx="407.5" cy="1629"/>
<circle cx="409.7" cy="1629"/>
<circle cx="430.2" cy="1651"/>
<circle cx="426.1" cy="1652.8"/>
<circle cx="434" cy="1654"/>
<circle cx="430.1" cy="1656.9"/>
<circle cx="426.2" cy="1659"/>
<circle cx="433.1" cy="1659.2"/>
<circle cx="429.8" cy="1660.6"/>
<circle cx="425.5" cy="1662"/>
<circle cx="433.8" cy="1664.7"/>
<circle cx="450.5" cy="1647.5"/>
<circle cx="446.8" cy="1649.1"/>
<circle cx="454.4" cy="1651.1"/>
<circle cx="450.4" cy="1652.8"/>
<circle cx="446.3" cy="1653.8"/>
<circle cx="454.3" cy="1655.1"/>
<circle cx="451" cy="1657.1"/>
<circle cx="447.2" cy="1660.1"/>
<circle cx="454.2" cy="1661.6"/>
<circle cx="451.1" cy="1662.8"/>
<circle cx="445.5" cy="1639.5"/>
<circle cx="451" cy="1642"/>
<rect x="479.4" y="1469.8" width="11.9" height="249.5"/>
<path d="M481.9 1462H488.9M485.4 1462V1469.8"/>
<rect x="500.8" y="1406.5" width="11.9" height="312.8" style="fill:#ff8000"/>
<path d="M503.3 1400.7H510.3M506.8 1400.7V1406.5"/>
<rect x="522.2" y="1469.8" width="11.9" height="249.5" style="fill:#0a7d96"/>
<path d="M524.7 1462H531.7M528.2 1462V1469.8"/>
<clipPath id="c19"><rect x="543.6" y="1467.2" width="11.9" height="252.1"/></clipPath>
<rect x="543.6" y="1467.2" width="11.9" height="252.1" style="fill:#0a7d96;stroke:none"/>
<path d="M541.6 1466.8L557.5 1450.9M541.6 1473.2L557.5 1457.3M541.6 1479.5L557.5 1463.6M541.6 1485.9L557.5 1470M541.6 1492.2L557.5 1476.3M541.6 1498.6L557.5 1482.7M541.6 1504.9L557.5 1489M541.6 1511.3L557.5 1495.4M541.6 1517.6L557.5 1501.7M541.6 1524L557.5 1508.1M541.6 1530.3L557.5 1514.4M541.6 1536.7L557.5 1520.8M541.6 1543L557.5 1527.1M541.6 1549.4L557.5 1533.5M541.6 1555.7L557.5 1539.8M541.6 1562.1L557.5 1546.2M541.6 1568.4L557.5 1552.5M541.6 1574.8L557.5 1558.9M541.6 1581.1L557.5 1565.2M541.6 1587.5L557.5 1571.6M541.6 1593.8L557.5 1577.9M541.6 1600.2L557.5 1584.3M541.6 1606.5L557.5 1590.6M541.6 1612.9L557.5 1597M541.6 1619.2L557.5 1603.3M541.6 1625.6L557.5 1609.7M541.6 1631.9L557.5 1616M541.6 1638.3L557.5 1622.4M541.6 1644.6L557.5 1628.7M541.6 1651L557.5 1635.1M541.6 1657.3L557.5 1641.4M541.6 1663.7L557.5 1647.8M541.6 1670L557.5 1654.1M541.6 1676.4L557.5 1660.5M541.6 1682.7L557.5 1666.8M541.6 1689.1L557.5 1673.2M541.6 1695.4L557.5 1679.5M541.6 1701.8L557.5 1685.9M541.6 1708.1L557.5 1692.2M541.6 1714.5L557.5 1698.6M541.6 1720.8L557.5 1704.9M541.6 1727.2L557.5 1711.3M541.6 1733.5L557.5 1717.6" clip-path="url(#c19)" style="stroke:#ff6400;stroke-width:2.05"/>
<rect x="543.6" y="1467.2" width="11.9" height="252.1" style="fill:none"/>
<path d="M546.1 1454.9H553.1M549.6 1454.9V1467.2"/>
<circle cx="485.9" cy="1419"/>
<circle cx="485.9" cy="1448.5"/>
<circle cx="485.9" cy="1463.5"/>
<circle cx="481.5" cy="1469"/>
<circle cx="490.5" cy="1469"/>
<circle cx="480.5" cy="1476.5"/>
<circle cx="490.5" cy="1477"/>
<circle cx="480.8" cy="1481"/>
<circle cx="485.9" cy="1484.5"/>
<circle cx="485.9" cy="1501.5"/>
<circle cx="507.1" cy="1388.5"/>
<circle cx="501.8" cy="1392"/>
<circle cx="512.3" cy="1392.5"/>
<circle cx="512.3" cy="1396.5"/>
<circle cx="507.1" cy="1398"/>
<circle cx="507.1" cy="1402.5"/>
<circle cx="503.5" cy="1406"/>
<circle cx="510.5" cy="1406.5"/>
<circle cx="507.1" cy="1427"/>
<circle cx="507.1" cy="1449"/>
<circle cx="528.3" cy="1433.5"/>
<circle cx="523" cy="1453.5"/>
<circle cx="528.3" cy="1454"/>
<circle cx="533.5" cy="1452"/>
<circle cx="528.3" cy="1468.5"/>
<circle cx="524.5" cy="1475.5"/>
<circle cx="532" cy="1474.5"/>
<circle cx="528.3" cy="1499.5"/>
<circle cx="528.3" cy="1513"/>
<circle cx="549.7" cy="1419"/>
<circle cx="549.7" cy="1423.5"/>
<circle cx="544.3" cy="1444"/>
<circle cx="554.8" cy="1445.5"/>
<circle cx="549.7" cy="1449.5"/>
<circle cx="544.3" cy="1486"/>
<circle cx="554.8" cy="1487"/>
<circle cx="544.3" cy="1490.5"/>
<circle cx="549.7" cy="1496.5"/>
<circle cx="549.7" cy="1521"/>
<rect x="86.8" y="1355.1" width="11.6" height="15.4"/>
<text x="106.8" y="1369.4" style="font-size:20.3px">ctrl siRNA + PBS</text>
<rect x="86.8" y="1381.8" width="11.6" height="15.4" style="fill:#ff8000"/>
<text x="106.8" y="1396.7" style="font-size:20.3px">ctrl siRNA + CTHRC1</text>
<rect x="86.8" y="1408.1" width="11.6" height="15.4" style="fill:#0a7d96"/>
<text x="106.8" y="1422.3" style="font-size:20.3px">si<tspan font-style="italic">GPR180</tspan> + PBS</text>
<clipPath id="c20"><rect x="86.8" y="1433.9" width="11.6" height="15.4"/></clipPath>
<rect x="86.8" y="1433.9" width="11.6" height="15.4" style="fill:#0a7d96;stroke:none"/>
<path d="M84.8 1436.2L100.4 1420.7M84.8 1442.6L100.4 1427M84.8 1448.9L100.4 1433.3M84.8 1455.3L100.4 1439.7M84.8 1461.6L100.4 1446" clip-path="url(#c20)" style="stroke:#ff6400;stroke-width:2.05"/>
<rect x="86.8" y="1433.9" width="11.6" height="15.4" style="fill:none"/>
<text x="106.8" y="1448.9" style="font-size:20.3px">si<tspan font-style="italic">GPR180</tspan> + CTHRC1</text>
<text x="123" y="1753.6" text-anchor="middle">Basal</text>
<text x="221.7" y="1753.6" text-anchor="middle">Uncoupled</text>
<text x="320" y="1753.6" text-anchor="middle">Coupled</text>
<text x="418.9" y="1753.6" text-anchor="middle">cAMP stim</text>
<text x="418.9" y="1776.3" text-anchor="middle">uncoupled</text>
<text x="517.9" y="1753.6" text-anchor="middle">Maximal</text>
<text x="24.3" y="1531" text-anchor="middle" transform="rotate(-90 24.3 1531)">OCR (pmol/min/<tspan font-family="Liberation Serif, serif">μ</tspan>g protein)</text>
<path d="M91.2 1631.3V1606.5H113.8V1617.7" class="b"/>
<path d="M287.8 1663.8V1640.4H310V1650.8" class="b"/>
<path d="M383.8 1626.8V1581.8H428.6V1639.1" class="b"/>
<path d="M389.5 1626.8V1607.3H407V1613.6" class="b"/>
<path d="M484 1406.7V1369H509.6V1376.5" class="b"/>
<text x="104.7" y="1609" class="s">***</text>
<text x="299.5" y="1643.2" class="s">***</text>
<text x="406.9" y="1584.5" class="s">**</text>
<text x="399.9" y="1612.4" class="s">**</text>
<text x="497.3" y="1372" class="s">***</text>
<text x="709.2" y="1350.6" style="font-size:38.5px;font-weight:bold;stroke:none">j</text>
<rect x="865.4" y="1219.1" width="241.9" height="108.3" style="stroke-width:1.5;fill:#fdfdfd"/>
<path d="M865.4 1255.1L1107.3 1255.1" style="stroke-width:1.5"/>
<path d="M865.4 1291.6L1107.3 1291.6" style="stroke-width:1.5"/>
<text x="856.5" y="1244.6" text-anchor="end" style="font-size:19.9px">UCP1</text>
<text x="857.5" y="1281.7" text-anchor="end" style="font-size:19.9px">CTHRC1</text>
<text x="858.2" y="1318.6" text-anchor="end" style="font-size:19.5px"><tspan font-family="Liberation Serif, serif">γ</tspan>-tubulin</text>
<rect x="866.2" y="1256" width="240.3" height="34.8" style="fill:#f6f6f6;stroke:none"/>
<rect x="866.2" y="1256" width="240.3" height="34.8" filter="url(#nz)" style="stroke:none;opacity:0.12"/>
<g filter="url(#b3)" class="wb">
<path d="M881.5 1235Q891 1236 900.5 1235" style="stroke-width:12;opacity:0.8"/>
<path d="M919 1236Q927 1237 935 1236" style="stroke-width:14;opacity:0.92"/>
<path d="M955 1234.5Q962 1234.5 969 1234.5" style="stroke-width:15;opacity:1"/>
<path d="M987.5 1235Q996 1236 1004.5 1235" style="stroke-width:11;opacity:0.55"/>
<path d="M1022.5 1233.5Q1033.5 1233.5 1044.5 1233.5" style="stroke-width:8;opacity:0.22"/>
<path d="M1063.5 1233.5Q1080 1233.5 1096.5 1233.5" style="stroke-width:9;opacity:0.27"/>
</g>
<g filter="url(#b3)" class="wb">
<path d="M878.5 1270Q891 1271 903.5 1270" style="stroke-width:7;opacity:0.42"/>
<path d="M880 1278Q891 1278 902 1278" style="stroke-width:6;opacity:0.15"/>
<path d="M919 1272Q929 1272 939 1272" style="stroke-width:6;opacity:0.25"/>
<path d="M919 1279.5Q929 1279.5 939 1279.5" style="stroke-width:6;opacity:0.15"/>
<path d="M959 1270Q967 1270 975 1270" style="stroke-width:8;opacity:0.45"/>
<path d="M958.5 1279Q967 1279 975.5 1279" style="stroke-width:7;opacity:0.25"/>
<path d="M990 1266Q1003 1266 1016 1266" style="stroke-width:4;opacity:0.1"/>
<path d="M1031.5 1267Q1043 1267 1054.5 1267" style="stroke-width:5;opacity:0.14"/>
<path d="M1070 1267Q1082 1267 1094 1267" style="stroke-width:4;opacity:0.07"/>
</g>
<g filter="url(#b3)" class="wb">
<path d="M878.5 1307.5Q889.5 1309.5 900.5 1307.5" style="stroke-width:9;opacity:0.88"/>
<path d="M918.5 1307.5Q927 1308.5 935.5 1307.5" style="stroke-width:12;opacity:1"/>
<path d="M953 1308Q963 1309.5 973 1308" style="stroke-width:10;opacity:0.95"/>
<path d="M989.5 1308.5Q998 1310.5 1006.5 1308.5" style="stroke-width:11;opacity:0.95"/>
<path d="M1025.8 1307.5Q1037 1310.5 1048.2 1307.5" style="stroke-width:10.5;opacity:0.95"/>
<path d="M1069.8 1308Q1082.5 1309 1095.2 1308" style="stroke-width:10.5;opacity:0.9"/>
</g>
<path d="M871.5 1331.6L974.1 1331.6" style="stroke:#8c8c12"/>
<path d="M991 1331.6L1093.8 1331.6" style="stroke:#8c8c12"/>
<text x="927.6" y="1351.9" text-anchor="middle" style="font-size:19.9px">ctrl siRNA</text>
<text x="1042.8" y="1351.9" text-anchor="middle" style="font-size:20px">si<tspan font-style="italic">CTHRC1</tspan></text>
<path d="M844.7 1351.4V1721.8M840.2 1352.3H844.7M840.2 1413.7H844.7M840.2 1475.1H844.7M840.2 1536.6H844.7M840.2 1598H844.7M840.2 1659.5H844.7M840.2 1720.9H844.7"/>
<text x="833.7" y="1359.9" text-anchor="end">1.2</text>
<text x="833.7" y="1421.3" text-anchor="end">1.0</text>
<text x="833.7" y="1482.7" text-anchor="end">0.8</text>
<text x="833.7" y="1544.2" text-anchor="end">0.6</text>
<text x="833.7" y="1605.6" text-anchor="end">0.4</text>
<text x="833.7" y="1667.1" text-anchor="end">0.2</text>
<text x="833.7" y="1728.5" text-anchor="end">0.0</text>
<path d="M840.2 1720.9H1139.9M928.4 1720.9V1725.4M1054.9 1720.9V1725.4"/>
<rect x="886.8" y="1414.4" width="83.2" height="306.5"/>
<rect x="1013.5" y="1533.7" width="83" height="187.2" style="fill:#808000"/>
<path d="M907.4 1404.1H949.4M928.4 1404.1V1414.4"/>
<path d="M1033.9 1511.2H1075.9M1054.9 1511.2V1533.7"/>
<circle cx="928.4" cy="1382.5"/>
<circle cx="928.4" cy="1388.6"/>
<circle cx="932.2" cy="1400.9"/>
<circle cx="924.6" cy="1404.3"/>
<circle cx="928.4" cy="1410.4"/>
<circle cx="928.4" cy="1416.7"/>
<circle cx="928.4" cy="1447.5"/>
<circle cx="928.4" cy="1456.5"/>
<circle cx="1054.9" cy="1450.3"/>
<circle cx="1054.9" cy="1456.3"/>
<circle cx="1051" cy="1496.6"/>
<circle cx="1058.6" cy="1499.5"/>
<circle cx="1054.9" cy="1527.6"/>
<circle cx="1054.9" cy="1552.2"/>
<circle cx="1054.9" cy="1570.6"/>
<circle cx="1054.9" cy="1613.4"/>
<circle cx="1054.9" cy="1628.9"/>
<text x="1055.4" y="1446.6" class="s">***</text>
<text x="925.8" y="1757.3" text-anchor="middle" style="font-size:20.8px">ctrl siRNA</text>
<text x="1054.6" y="1757.3" text-anchor="middle" style="font-size:20.8px">si<tspan font-style="italic">CTHRC1</tspan></text>
<text x="785.5" y="1530" text-anchor="middle" style="font-size:20.2px" transform="rotate(-90 785.5 1530)">UCP1/<tspan font-family="Liberation Serif, serif">γ</tspan>-tubulin</text>
<text x="1339.3" y="1350.7" style="font-size:38.5px;font-weight:bold;stroke:none">k</text>
<path d="M1463.9 1354.4V1722.6M1459.4 1355.2H1463.9M1459.4 1446.8H1463.9M1459.4 1538.5H1463.9M1459.4 1630.1H1463.9M1459.4 1721.8H1463.9"/>
<text x="1452.9" y="1362.8" text-anchor="end">20</text>
<text x="1452.9" y="1454.4" text-anchor="end">15</text>
<text x="1452.9" y="1546.1" text-anchor="end">10</text>
<text x="1452.9" y="1637.7" text-anchor="end">5</text>
<text x="1452.9" y="1729.4" text-anchor="end">0</text>
<path d="M1459.4 1721.8H1953.4M1507.8 1721.8V1726.3M1608.2 1721.8V1726.3M1708.2 1721.8V1726.3M1808.3 1721.8V1726.3M1908.3 1721.8V1726.3"/>
<rect x="1477.4" y="1648.6" width="23.2" height="73.2"/>
<rect x="1515" y="1661.3" width="23.2" height="60.5" style="fill:#808000"/>
<path d="M1483 1644H1495M1489 1644V1648.6"/>
<path d="M1520.6 1658.5H1532.6M1526.6 1658.5V1661.3"/>
<rect x="1577.8" y="1691.2" width="23.2" height="30.6"/>
<rect x="1615.4" y="1699.4" width="23.2" height="22.4" style="fill:#808000"/>
<path d="M1583.4 1689H1595.4M1589.4 1689V1691.2"/>
<path d="M1621 1697.5H1633M1627 1697.5V1699.4"/>
<rect x="1677.8" y="1680" width="23.2" height="41.8"/>
<rect x="1715.4" y="1684.5" width="23.2" height="37.3" style="fill:#808000"/>
<path d="M1683.4 1677.5H1695.4M1689.4 1677.5V1680"/>
<path d="M1721 1681H1733M1727 1681V1684.5"/>
<rect x="1777.9" y="1552.5" width="23.2" height="169.3"/>
<rect x="1815.5" y="1586.8" width="23.2" height="135" style="fill:#808000"/>
<path d="M1783.5 1544.8H1795.5M1789.5 1544.8V1552.5"/>
<path d="M1821.1 1585.5H1833.1M1827.1 1585.5V1586.8"/>
<rect x="1877.9" y="1480.4" width="23.2" height="241.4"/>
<rect x="1915.5" y="1467" width="23.2" height="254.8" style="fill:#808000"/>
<path d="M1883.5 1466.5H1895.5M1889.5 1466.5V1480.4"/>
<path d="M1921.1 1451H1933.1M1927.1 1451V1467"/>
<circle cx="1488.9" cy="1636.3"/>
<circle cx="1488.9" cy="1643.8"/>
<circle cx="1488.9" cy="1648.3"/>
<circle cx="1485.4" cy="1656.8"/>
<circle cx="1492.6" cy="1655"/>
<circle cx="1523" cy="1655.5"/>
<circle cx="1530.2" cy="1655.5"/>
<circle cx="1526.4" cy="1658.7"/>
<circle cx="1523" cy="1661.9"/>
<circle cx="1530.2" cy="1661.9"/>
<circle cx="1526.4" cy="1666.7"/>
<circle cx="1585.5" cy="1687.2"/>
<circle cx="1593" cy="1687.7"/>
<circle cx="1585.5" cy="1691.2"/>
<circle cx="1593" cy="1692.2"/>
<circle cx="1585.5" cy="1695.4"/>
<circle cx="1626.8" cy="1693.8"/>
<circle cx="1623.1" cy="1697.3"/>
<circle cx="1630.2" cy="1697.8"/>
<circle cx="1634.2" cy="1700.2"/>
<circle cx="1619.3" cy="1702.9"/>
<circle cx="1689.4" cy="1671.5"/>
<circle cx="1685.4" cy="1678.9"/>
<circle cx="1693.1" cy="1678.9"/>
<circle cx="1685.4" cy="1683.4"/>
<circle cx="1693.1" cy="1683.7"/>
<circle cx="1726.7" cy="1674.1"/>
<circle cx="1719.7" cy="1683.7"/>
<circle cx="1734.1" cy="1684.8"/>
<circle cx="1726.7" cy="1685.8"/>
<circle cx="1726.7" cy="1690.9"/>
<circle cx="1789.2" cy="1530.4"/>
<circle cx="1789.2" cy="1541.6"/>
<circle cx="1789.2" cy="1558.1"/>
<circle cx="1785.5" cy="1564.7"/>
<circle cx="1793.2" cy="1564.5"/>
<circle cx="1834.5" cy="1582"/>
<circle cx="1819.6" cy="1584.4"/>
<circle cx="1827" cy="1586.3"/>
<circle cx="1834.5" cy="1587.6"/>
<circle cx="1819.6" cy="1590"/>
<circle cx="1889.3" cy="1438.8"/>
<circle cx="1889.3" cy="1459.6"/>
<circle cx="1885.6" cy="1496.6"/>
<circle cx="1893.3" cy="1498.7"/>
<circle cx="1889.3" cy="1504.6"/>
<circle cx="1927.1" cy="1430.8"/>
<circle cx="1927.1" cy="1452.9"/>
<circle cx="1927.1" cy="1460.7"/>
<circle cx="1927.1" cy="1467.8"/>
<circle cx="1927.1" cy="1517.9"/>
<text x="1627.3" y="1694.2" class="s">*</text>
<text x="1827.5" y="1578.7" class="s">*</text>
<rect x="1473.8" y="1355.2" width="11.9" height="16"/>
<rect x="1473.8" y="1381.1" width="11.9" height="15.9" style="fill:#808000"/>
<text x="1494.2" y="1369.1">ctrl siRNA</text>
<text x="1494.2" y="1395.2">si<tspan font-style="italic">CTHRC1</tspan></text>
<text x="1507.8" y="1758" text-anchor="middle">Basal</text>
<text x="1608.2" y="1758" text-anchor="middle">Uncoupled</text>
<text x="1708.2" y="1758" text-anchor="middle">Coupled</text>
<text x="1808.3" y="1758" text-anchor="middle">cAMP stimul</text>
<text x="1808.3" y="1780.3" text-anchor="middle">uncoupled</text>
<text x="1908.3" y="1758" text-anchor="middle">Maximal</text>
<text x="1410.5" y="1532" text-anchor="middle" transform="rotate(-90 1410.5 1532)">OCR (pmol/min/<tspan font-family="Liberation Serif, serif">μ</tspan>g protein)</text>
</g>
</svg>
</body></html>
